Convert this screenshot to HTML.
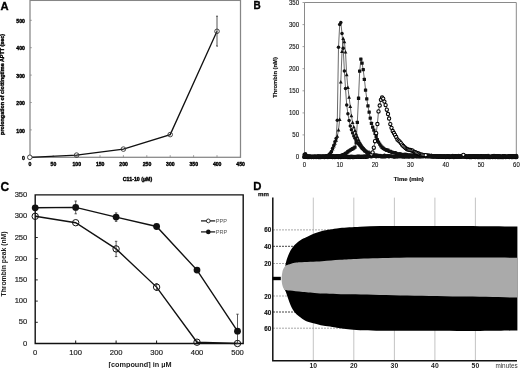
<!DOCTYPE html>
<html><head><meta charset="utf-8"><style>
html,body{margin:0;padding:0;background:#fff;}
body{width:520px;height:368px;overflow:hidden;font-family:"Liberation Sans",sans-serif;}
svg{display:block;filter:grayscale(1);}
</style></head><body>
<svg width="520" height="368" viewBox="0 0 520 368">
<rect width="520" height="368" fill="#fff"/>
<g id="A">
<text x="0.6" y="9.8" font-family="Liberation Sans, sans-serif" font-weight="bold" font-size="11.2" stroke="#000" stroke-width="0.35">A</text>
<rect x="30" y="0.4" width="210.5" height="156.9" fill="none" stroke="#868686" stroke-width="1.25"/>
<line x1="30" y1="157.3" x2="31.8" y2="157.3" stroke="#868686" stroke-width="0.8"/>
<text x="24.9" y="159.9" font-family="Liberation Sans, sans-serif" font-weight="bold" font-size="5.8" text-anchor="end" fill="#000" stroke="#000" stroke-width="0.4" textLength="2.9" lengthAdjust="spacingAndGlyphs">0</text>
<line x1="30" y1="129.9" x2="31.8" y2="129.9" stroke="#868686" stroke-width="0.8"/>
<text x="24.9" y="132.5" font-family="Liberation Sans, sans-serif" font-weight="bold" font-size="5.8" text-anchor="end" fill="#000" stroke="#000" stroke-width="0.4" textLength="8.6" lengthAdjust="spacingAndGlyphs">100</text>
<line x1="30" y1="102.5" x2="31.8" y2="102.5" stroke="#868686" stroke-width="0.8"/>
<text x="24.9" y="105.1" font-family="Liberation Sans, sans-serif" font-weight="bold" font-size="5.8" text-anchor="end" fill="#000" stroke="#000" stroke-width="0.4" textLength="8.6" lengthAdjust="spacingAndGlyphs">200</text>
<line x1="30" y1="75.1" x2="31.8" y2="75.1" stroke="#868686" stroke-width="0.8"/>
<text x="24.9" y="77.7" font-family="Liberation Sans, sans-serif" font-weight="bold" font-size="5.8" text-anchor="end" fill="#000" stroke="#000" stroke-width="0.4" textLength="8.6" lengthAdjust="spacingAndGlyphs">300</text>
<line x1="30" y1="47.7" x2="31.8" y2="47.7" stroke="#868686" stroke-width="0.8"/>
<text x="24.9" y="50.3" font-family="Liberation Sans, sans-serif" font-weight="bold" font-size="5.8" text-anchor="end" fill="#000" stroke="#000" stroke-width="0.4" textLength="8.6" lengthAdjust="spacingAndGlyphs">400</text>
<line x1="30" y1="20.3" x2="31.8" y2="20.3" stroke="#868686" stroke-width="0.8"/>
<text x="24.9" y="22.9" font-family="Liberation Sans, sans-serif" font-weight="bold" font-size="5.8" text-anchor="end" fill="#000" stroke="#000" stroke-width="0.4" textLength="8.6" lengthAdjust="spacingAndGlyphs">500</text>
<line x1="29.8" y1="157.3" x2="29.8" y2="155.2" stroke="#868686" stroke-width="0.8"/>
<text x="30.0" y="165.7" font-family="Liberation Sans, sans-serif" font-weight="bold" font-size="5.8" text-anchor="middle" fill="#000" stroke="#000" stroke-width="0.4" textLength="2.9" lengthAdjust="spacingAndGlyphs">0</text>
<line x1="53.2" y1="157.3" x2="53.2" y2="155.2" stroke="#868686" stroke-width="0.8"/>
<text x="53.4" y="165.7" font-family="Liberation Sans, sans-serif" font-weight="bold" font-size="5.8" text-anchor="middle" fill="#000" stroke="#000" stroke-width="0.4" textLength="5.7" lengthAdjust="spacingAndGlyphs">50</text>
<line x1="76.6" y1="157.3" x2="76.6" y2="155.2" stroke="#868686" stroke-width="0.8"/>
<text x="76.8" y="165.7" font-family="Liberation Sans, sans-serif" font-weight="bold" font-size="5.8" text-anchor="middle" fill="#000" stroke="#000" stroke-width="0.4" textLength="8.6" lengthAdjust="spacingAndGlyphs">100</text>
<line x1="100.0" y1="157.3" x2="100.0" y2="155.2" stroke="#868686" stroke-width="0.8"/>
<text x="100.2" y="165.7" font-family="Liberation Sans, sans-serif" font-weight="bold" font-size="5.8" text-anchor="middle" fill="#000" stroke="#000" stroke-width="0.4" textLength="8.6" lengthAdjust="spacingAndGlyphs">150</text>
<line x1="123.4" y1="157.3" x2="123.4" y2="155.2" stroke="#868686" stroke-width="0.8"/>
<text x="123.6" y="165.7" font-family="Liberation Sans, sans-serif" font-weight="bold" font-size="5.8" text-anchor="middle" fill="#000" stroke="#000" stroke-width="0.4" textLength="8.6" lengthAdjust="spacingAndGlyphs">200</text>
<line x1="146.8" y1="157.3" x2="146.8" y2="155.2" stroke="#868686" stroke-width="0.8"/>
<text x="147.0" y="165.7" font-family="Liberation Sans, sans-serif" font-weight="bold" font-size="5.8" text-anchor="middle" fill="#000" stroke="#000" stroke-width="0.4" textLength="8.6" lengthAdjust="spacingAndGlyphs">250</text>
<line x1="170.2" y1="157.3" x2="170.2" y2="155.2" stroke="#868686" stroke-width="0.8"/>
<text x="170.4" y="165.7" font-family="Liberation Sans, sans-serif" font-weight="bold" font-size="5.8" text-anchor="middle" fill="#000" stroke="#000" stroke-width="0.4" textLength="8.6" lengthAdjust="spacingAndGlyphs">300</text>
<line x1="193.6" y1="157.3" x2="193.6" y2="155.2" stroke="#868686" stroke-width="0.8"/>
<text x="193.8" y="165.7" font-family="Liberation Sans, sans-serif" font-weight="bold" font-size="5.8" text-anchor="middle" fill="#000" stroke="#000" stroke-width="0.4" textLength="8.6" lengthAdjust="spacingAndGlyphs">350</text>
<line x1="217.0" y1="157.3" x2="217.0" y2="155.2" stroke="#868686" stroke-width="0.8"/>
<text x="217.2" y="165.7" font-family="Liberation Sans, sans-serif" font-weight="bold" font-size="5.8" text-anchor="middle" fill="#000" stroke="#000" stroke-width="0.4" textLength="8.6" lengthAdjust="spacingAndGlyphs">400</text>
<line x1="240.4" y1="157.3" x2="240.4" y2="155.2" stroke="#868686" stroke-width="0.8"/>
<text x="240.6" y="165.7" font-family="Liberation Sans, sans-serif" font-weight="bold" font-size="5.8" text-anchor="middle" fill="#000" stroke="#000" stroke-width="0.4" textLength="8.6" lengthAdjust="spacingAndGlyphs">450</text>
<text x="137.5" y="181.2" font-family="Liberation Sans, sans-serif" font-weight="bold" font-size="5.6" text-anchor="middle" fill="#000" stroke="#000" stroke-width="0.4" textLength="29.5" lengthAdjust="spacingAndGlyphs">C11-10 (µM)</text>
<text transform="translate(3.9,84.4) rotate(-90)" font-family="Liberation Sans, sans-serif" font-weight="bold" font-size="5.4" text-anchor="middle" fill="#000" stroke="#000" stroke-width="0.35" textLength="101" lengthAdjust="spacingAndGlyphs">prolongation of clottingtime APTT (sec)</text>
<polyline points="29.8,157.3 76.6,155.1 123.4,149.1 170.2,134.6 217.0,31.3" fill="none" stroke="#111" stroke-width="1.3"/>
<line x1="217.0" y1="16.2" x2="217.0" y2="46.2" stroke="#555" stroke-width="1"/>
<line x1="216.0" y1="16.2" x2="218.0" y2="16.2" stroke="#333" stroke-width="0.8"/>
<line x1="216.0" y1="45.8" x2="218.0" y2="46.2" stroke="#555" stroke-width="1"/>
<circle cx="29.8" cy="157.3" r="2.3" fill="#fff" stroke="#333" stroke-width="0.9"/>
<circle cx="76.6" cy="155.1" r="2.3" fill="none" stroke="#333" stroke-width="0.9"/>
<circle cx="123.4" cy="149.1" r="2.3" fill="none" stroke="#333" stroke-width="0.9"/>
<circle cx="170.2" cy="134.6" r="2.3" fill="none" stroke="#333" stroke-width="0.9"/>
<circle cx="217.0" cy="31.3" r="2.3" fill="none" stroke="#333" stroke-width="0.9"/>
</g>
<g id="B">
<text x="253.6" y="8.9" font-family="Liberation Sans, sans-serif" font-weight="bold" font-size="10.4" stroke="#000" stroke-width="0.35" textLength="7.2" lengthAdjust="spacingAndGlyphs">B</text>
<path d="M304.5,157 V2.5 H516.3 V157" fill="none" stroke="#8a8a8a" stroke-width="1"/>
<line x1="302.5" y1="157.0" x2="304.5" y2="157.0" stroke="#8a8a8a" stroke-width="0.8"/>
<text x="299.1" y="159.4" font-family="Liberation Sans, sans-serif" font-size="6.8" text-anchor="end" fill="#111" stroke="#111" stroke-width="0.12" textLength="3.4" lengthAdjust="spacingAndGlyphs">0</text>
<line x1="302.5" y1="134.9" x2="304.5" y2="134.9" stroke="#8a8a8a" stroke-width="0.8"/>
<text x="299.1" y="137.3" font-family="Liberation Sans, sans-serif" font-size="6.8" text-anchor="end" fill="#111" stroke="#111" stroke-width="0.12" textLength="6.8" lengthAdjust="spacingAndGlyphs">50</text>
<line x1="302.5" y1="112.9" x2="304.5" y2="112.9" stroke="#8a8a8a" stroke-width="0.8"/>
<text x="299.1" y="115.3" font-family="Liberation Sans, sans-serif" font-size="6.8" text-anchor="end" fill="#111" stroke="#111" stroke-width="0.12" textLength="10.2" lengthAdjust="spacingAndGlyphs">100</text>
<line x1="302.5" y1="90.8" x2="304.5" y2="90.8" stroke="#8a8a8a" stroke-width="0.8"/>
<text x="299.1" y="93.2" font-family="Liberation Sans, sans-serif" font-size="6.8" text-anchor="end" fill="#111" stroke="#111" stroke-width="0.12" textLength="10.2" lengthAdjust="spacingAndGlyphs">150</text>
<line x1="302.5" y1="68.7" x2="304.5" y2="68.7" stroke="#8a8a8a" stroke-width="0.8"/>
<text x="299.1" y="71.1" font-family="Liberation Sans, sans-serif" font-size="6.8" text-anchor="end" fill="#111" stroke="#111" stroke-width="0.12" textLength="10.2" lengthAdjust="spacingAndGlyphs">200</text>
<line x1="302.5" y1="46.6" x2="304.5" y2="46.6" stroke="#8a8a8a" stroke-width="0.8"/>
<text x="299.1" y="49.0" font-family="Liberation Sans, sans-serif" font-size="6.8" text-anchor="end" fill="#111" stroke="#111" stroke-width="0.12" textLength="10.2" lengthAdjust="spacingAndGlyphs">250</text>
<line x1="302.5" y1="24.6" x2="304.5" y2="24.6" stroke="#8a8a8a" stroke-width="0.8"/>
<text x="299.1" y="27.0" font-family="Liberation Sans, sans-serif" font-size="6.8" text-anchor="end" fill="#111" stroke="#111" stroke-width="0.12" textLength="10.2" lengthAdjust="spacingAndGlyphs">300</text>
<line x1="302.5" y1="2.5" x2="304.5" y2="2.5" stroke="#8a8a8a" stroke-width="0.8"/>
<text x="299.1" y="4.9" font-family="Liberation Sans, sans-serif" font-size="6.8" text-anchor="end" fill="#111" stroke="#111" stroke-width="0.12" textLength="10.2" lengthAdjust="spacingAndGlyphs">350</text>
<text x="304.3" y="166.7" font-family="Liberation Sans, sans-serif" font-size="6.8" text-anchor="middle" fill="#111" stroke="#111" stroke-width="0.12" textLength="3.3" lengthAdjust="spacingAndGlyphs">0</text>
<text x="339.7" y="166.7" font-family="Liberation Sans, sans-serif" font-size="6.8" text-anchor="middle" fill="#111" stroke="#111" stroke-width="0.12" textLength="6.6" lengthAdjust="spacingAndGlyphs">10</text>
<text x="375.0" y="166.7" font-family="Liberation Sans, sans-serif" font-size="6.8" text-anchor="middle" fill="#111" stroke="#111" stroke-width="0.12" textLength="6.6" lengthAdjust="spacingAndGlyphs">20</text>
<text x="410.4" y="166.7" font-family="Liberation Sans, sans-serif" font-size="6.8" text-anchor="middle" fill="#111" stroke="#111" stroke-width="0.12" textLength="6.6" lengthAdjust="spacingAndGlyphs">30</text>
<text x="445.7" y="166.7" font-family="Liberation Sans, sans-serif" font-size="6.8" text-anchor="middle" fill="#111" stroke="#111" stroke-width="0.12" textLength="6.6" lengthAdjust="spacingAndGlyphs">40</text>
<text x="481.1" y="166.7" font-family="Liberation Sans, sans-serif" font-size="6.8" text-anchor="middle" fill="#111" stroke="#111" stroke-width="0.12" textLength="6.6" lengthAdjust="spacingAndGlyphs">50</text>
<text x="516.4" y="166.7" font-family="Liberation Sans, sans-serif" font-size="6.8" text-anchor="middle" fill="#111" stroke="#111" stroke-width="0.12" textLength="6.6" lengthAdjust="spacingAndGlyphs">60</text>
<text x="408.8" y="181" font-family="Liberation Sans, sans-serif" font-weight="bold" font-size="6.1" text-anchor="middle" fill="#111" stroke="#111" stroke-width="0.2" textLength="30" lengthAdjust="spacingAndGlyphs">Time (min)</text>
<text transform="translate(277.2,77.5) rotate(-90)" font-family="Liberation Sans, sans-serif" font-weight="bold" font-size="6.1" text-anchor="middle" fill="#111" stroke="#111" stroke-width="0.15" textLength="40.7" lengthAdjust="spacingAndGlyphs">Thrombin (nM)</text>
<polyline points="304.3,154.3 305.5,153.7 306.7,155.4 307.8,156.1 309.0,155.9 310.2,155.9 311.4,156.8 312.5,156.7 313.7,156.9 314.9,156.4 316.1,156.9 317.3,156.4 318.4,156.2 319.6,156.6 320.8,156.1 322.0,156.2 323.2,156.9 324.3,156.2 325.5,156.4 326.7,156.1 327.9,155.9 329.0,154.6 330.2,153.3 331.4,151.4 332.6,148.3 333.8,145.2 334.9,141.7 336.1,138.5 337.3,120.2 338.5,47.2 339.7,24.6 340.8,22.5 342.0,33.5 343.2,48.2 344.4,71.0 345.5,88.5 346.7,104.9 347.9,113.7 349.1,120.5 350.3,125.9 351.4,129.8 352.6,133.1 353.8,135.9 355.0,138.2 356.1,140.4 357.3,142.3 358.5,144.0 359.7,145.6 360.9,147.0 362.0,148.4 363.2,149.6 364.4,151.1 365.6,151.6 366.8,153.0 367.9,153.3 369.1,154.1 370.3,154.2 371.5,154.5 372.6,154.7 373.8,154.9 375.0,155.4 376.2,155.1 377.4,155.6 378.5,155.4 379.7,155.7 380.9,155.7 382.1,156.2 383.2,156.0 384.4,155.3 385.6,156.2 386.8,155.7 388.0,155.8 389.1,155.8 390.3,156.1 391.5,156.0 392.7,156.6 393.9,156.6 395.0,156.5 396.2,156.5 397.4,156.6 398.6,156.5 399.7,156.1 400.9,156.5 402.1,155.6 403.3,155.9 404.5,156.1 405.6,155.9 406.8,156.4 408.0,155.6 409.2,155.7 410.4,155.9 411.5,156.1 412.7,155.7 413.9,155.8 415.1,155.9 416.2,155.6 417.4,156.0 418.6,156.3 419.8,156.1 421.0,156.5 422.1,156.5 423.3,155.9 424.5,155.8 425.7,155.6 426.8,155.7 428.0,156.1 429.2,156.6 430.4,156.1 431.6,155.6 432.7,155.8 433.9,156.1 435.1,156.2 436.3,156.4 437.5,156.5 438.6,156.6 439.8,155.7 441.0,156.0 442.2,156.5 443.3,156.2 444.5,156.6 445.7,156.5 446.9,155.9 448.1,155.9 449.2,156.1 450.4,156.4 451.6,155.9 452.8,155.6 453.9,156.2 455.1,156.6 456.3,156.6 457.5,156.6 458.7,155.6 459.8,156.1 461.0,155.7 462.2,156.5 463.4,156.4 464.6,155.9 465.7,155.7 466.9,156.3 468.1,156.6 469.3,155.7 470.4,156.4 471.6,155.8 472.8,156.5 474.0,155.9 475.2,155.7 476.3,155.9 477.5,156.3 478.7,155.9 479.9,156.5 481.1,156.3 482.2,156.2 483.4,155.7 484.6,156.5 485.8,155.7 486.9,155.8 488.1,155.6 489.3,156.3 490.5,156.5 491.7,156.4 492.8,155.7 494.0,155.6 495.2,155.9 496.4,156.1 497.5,156.4 498.7,155.7 499.9,155.7 501.1,156.6 502.3,156.4 503.4,155.7 504.6,155.7 505.8,156.3 507.0,156.4 508.2,156.2 509.3,156.1 510.5,156.6 511.7,155.7 512.9,156.1 514.0,155.8 515.2,156.4 516.4,155.6" fill="none" stroke="#444" stroke-width="0.8"/>
<polyline points="304.3,156.6 305.5,156.9 306.7,156.5 307.8,156.7 309.0,156.6 310.2,157.0 311.4,157.0 312.5,156.6 313.7,156.9 314.9,156.7 316.1,157.0 317.3,156.4 318.4,156.7 319.6,156.5 320.8,157.0 322.0,156.7 323.2,156.9 324.3,156.4 325.5,156.7 326.7,156.9 327.9,156.8 329.0,156.1 330.2,154.3 331.4,151.9 332.6,149.0 333.8,146.1 334.9,143.4 336.1,140.4 337.3,136.3 338.5,130.0 339.7,119.5 340.8,82.1 342.0,51.7 343.2,38.7 344.4,41.8 345.5,52.0 346.7,74.9 347.9,87.5 349.1,97.3 350.3,106.6 351.4,115.8 352.6,122.7 353.8,127.0 355.0,130.6 356.1,133.9 357.3,136.9 358.5,139.5 359.7,142.0 360.9,144.2 362.0,146.1 363.2,147.5 364.4,148.8 365.6,150.0 366.8,151.1 367.9,151.8 369.1,152.1 370.3,153.2 371.5,153.8 372.6,154.0 373.8,154.5 375.0,154.7 376.2,155.3 377.4,155.3 378.5,155.7 379.7,155.7 380.9,155.6 382.1,156.1 383.2,156.0 384.4,155.7 385.6,155.8 386.8,156.2 388.0,156.2 389.1,156.3 390.3,156.5 391.5,156.4 392.7,156.9 393.9,156.5 395.0,157.0 396.2,156.6 397.4,156.7 398.6,156.8 399.7,156.7 400.9,156.8 402.1,156.6 403.3,157.0 404.5,156.8 405.6,156.5 406.8,156.5 408.0,157.0 409.2,156.9 410.4,156.5 411.5,156.9 412.7,157.0 413.9,156.6 415.1,156.8 416.2,156.6 417.4,156.8 418.6,156.8 419.8,156.8 421.0,156.9 422.1,156.5 423.3,156.7 424.5,156.6 425.7,156.5 426.8,156.9 428.0,156.5 429.2,156.6 430.4,156.8 431.6,156.7 432.7,157.0 433.9,156.6 435.1,157.0 436.3,156.8 437.5,157.0 438.6,157.0 439.8,156.7 441.0,156.8 442.2,156.7 443.3,156.6 444.5,156.5 445.7,157.0 446.9,156.7 448.1,156.7 449.2,156.7 450.4,156.8 451.6,156.7 452.8,156.6 453.9,156.8 455.1,156.8 456.3,156.7 457.5,157.0 458.7,156.8 459.8,157.0 461.0,157.0 462.2,157.0 463.4,157.0 464.6,157.0 465.7,156.8 466.9,156.7 468.1,156.6 469.3,156.8 470.4,156.5 471.6,156.8 472.8,156.6 474.0,156.7 475.2,156.7 476.3,156.9 477.5,156.5 478.7,156.6 479.9,157.0 481.1,156.8 482.2,156.5 483.4,157.0 484.6,156.9 485.8,156.6 486.9,157.0 488.1,156.6 489.3,156.7 490.5,156.6 491.7,156.7 492.8,156.5 494.0,156.9 495.2,156.7 496.4,157.0 497.5,156.7 498.7,156.8 499.9,156.5 501.1,156.5 502.3,157.0 503.4,157.0 504.6,157.0 505.8,157.0 507.0,156.6 508.2,156.8 509.3,156.8 510.5,156.8 511.7,157.0 512.9,156.8 514.0,156.5 515.2,156.6 516.4,156.7" fill="none" stroke="#444" stroke-width="0.8"/>
<polyline points="304.3,156.7 305.5,155.9 306.7,156.4 307.8,156.2 309.0,156.7 310.2,156.5 311.4,156.5 312.5,156.4 313.7,156.9 314.9,156.1 316.1,156.7 317.3,156.2 318.4,156.2 319.6,156.1 320.8,156.5 322.0,156.5 323.2,156.0 324.3,156.4 325.5,156.7 326.7,155.8 327.9,156.8 329.0,155.8 330.2,156.4 331.4,156.3 332.6,155.6 333.8,156.2 334.9,155.9 336.1,156.2 337.3,155.6 338.5,155.6 339.7,155.7 340.8,155.8 342.0,155.2 343.2,154.7 344.4,154.3 345.5,153.3 346.7,152.9 347.9,151.8 349.1,150.9 350.3,150.2 351.4,149.4 352.6,148.7 353.8,148.1 355.0,147.1 356.1,142.8 357.3,122.4 358.5,98.2 359.7,71.2 360.9,59.0 362.0,63.0 363.2,69.7 364.4,79.3 365.6,90.0 366.8,99.0 367.9,105.9 369.1,112.1 370.3,118.2 371.5,123.5 372.6,127.1 373.8,130.2 375.0,133.3 376.2,136.6 377.4,139.7 378.5,142.1 379.7,144.1 380.9,145.8 382.1,147.2 383.2,148.3 384.4,149.0 385.6,149.7 386.8,150.3 388.0,150.2 389.1,151.4 390.3,151.5 391.5,152.1 392.7,152.5 393.9,153.0 395.0,152.7 396.2,153.5 397.4,154.3 398.6,153.9 399.7,153.8 400.9,154.0 402.1,154.6 403.3,155.3 404.5,154.5 405.6,154.4 406.8,154.8 408.0,155.2 409.2,155.3 410.4,155.0 411.5,155.7 412.7,155.0 413.9,155.4 415.1,156.0 416.2,155.2 417.4,155.7 418.6,156.1 419.8,156.1 421.0,155.3 422.1,156.2 423.3,155.5 424.5,155.5 425.7,156.3 426.8,156.0 428.0,155.6 429.2,155.9 430.4,155.5 431.6,156.1 432.7,155.8 433.9,156.3 435.1,155.5 436.3,155.6 437.5,155.9 438.6,156.2 439.8,156.1 441.0,155.9 442.2,156.4 443.3,156.0 444.5,156.2 445.7,156.2 446.9,156.2 448.1,155.6 449.2,156.4 450.4,156.3 451.6,156.4 452.8,156.6 453.9,156.1 455.1,155.6 456.3,155.6 457.5,156.0 458.7,156.1 459.8,155.6 461.0,156.0 462.2,156.0 463.4,155.9 464.6,156.5 465.7,155.7 466.9,156.5 468.1,156.0 469.3,155.6 470.4,156.0 471.6,156.3 472.8,155.8 474.0,155.6 475.2,155.9 476.3,156.6 477.5,155.6 478.7,156.6 479.9,155.9 481.1,155.6 482.2,156.5 483.4,156.1 484.6,155.9 485.8,156.5 486.9,156.4 488.1,156.6 489.3,156.5 490.5,156.5 491.7,156.3 492.8,155.8 494.0,155.9 495.2,155.8 496.4,155.9 497.5,155.8 498.7,156.5 499.9,156.0 501.1,156.7 502.3,156.1 503.4,155.7 504.6,156.1 505.8,156.3 507.0,156.4 508.2,156.2 509.3,155.6 510.5,155.6 511.7,155.8 512.9,155.6 514.0,155.8 515.2,156.4 516.4,156.2" fill="none" stroke="#444" stroke-width="0.8"/>
<polyline points="304.3,156.9 305.5,156.9 306.7,156.9 307.8,157.0 309.0,157.0 310.2,156.7 311.4,157.0 312.5,156.7 313.7,157.0 314.9,156.7 316.1,157.0 317.3,156.8 318.4,157.0 319.6,157.0 320.8,157.0 322.0,156.9 323.2,156.9 324.3,157.0 325.5,156.8 326.7,156.7 327.9,157.0 329.0,156.9 330.2,156.8 331.4,156.9 332.6,157.0 333.8,156.7 334.9,157.0 336.1,156.7 337.3,156.9 338.5,157.0 339.7,156.7 340.8,157.0 342.0,156.7 343.2,156.8 344.4,156.6 345.5,156.7 346.7,156.9 347.9,157.0 349.1,157.0 350.3,157.0 351.4,156.7 352.6,157.0 353.8,157.0 355.0,156.9 356.1,156.8 357.3,156.6 358.5,156.7 359.7,156.7 360.9,156.9 362.0,156.7 363.2,156.8 364.4,156.4 365.6,156.9 366.8,156.4 367.9,156.2 369.1,155.9 370.3,155.6 371.5,154.4 372.6,152.4 373.8,147.7 375.0,141.2 376.2,133.2 377.4,124.0 378.5,111.4 379.7,105.5 380.9,99.8 382.1,97.5 383.2,98.6 384.4,101.6 385.6,105.1 386.8,109.7 388.0,114.0 389.1,118.5 390.3,124.1 391.5,127.8 392.7,131.0 393.9,133.0 395.0,134.9 396.2,137.0 397.4,139.5 398.6,140.6 399.7,141.6 400.9,143.1 402.1,144.7 403.3,146.0 404.5,147.1 405.6,148.1 406.8,149.0 408.0,149.5 409.2,149.8 410.4,150.0 411.5,150.3 412.7,150.7 413.9,151.8 415.1,152.1 416.2,152.6 417.4,153.2 418.6,153.5 419.8,154.2 421.0,154.6 422.1,154.7 423.3,155.1 424.5,155.2 425.7,155.2 426.8,155.7 428.0,155.5 429.2,155.8 430.4,156.2 431.6,156.0 432.7,156.2 433.9,156.4 435.1,156.4 436.3,156.2 437.5,156.4 438.6,156.7 439.8,156.3 441.0,156.8 442.2,156.7 443.3,156.8 444.5,156.4 445.7,157.0 446.9,156.6 448.1,156.7 449.2,157.0 450.4,156.7 451.6,156.6 452.8,156.6 453.9,157.0 455.1,156.6 456.3,156.8 457.5,156.5 458.7,156.7 459.8,156.9 461.0,156.4 462.2,156.0 463.4,154.8 464.6,156.0 465.7,156.7 466.9,157.0 468.1,156.7 469.3,157.0 470.4,157.0 471.6,157.0 472.8,156.9 474.0,156.7 475.2,157.0 476.3,156.8 477.5,157.0 478.7,157.0 479.9,157.0 481.1,157.0 482.2,157.0 483.4,157.0 484.6,157.0 485.8,156.9 486.9,157.0 488.1,157.0 489.3,157.0 490.5,157.0 491.7,156.9 492.8,157.0 494.0,156.7 495.2,157.0 496.4,156.8 497.5,157.0 498.7,157.0 499.9,157.0 501.1,157.0 502.3,157.0 503.4,157.0 504.6,156.7 505.8,157.0 507.0,156.7 508.2,156.8 509.3,157.0 510.5,156.9 511.7,157.0 512.9,157.0 514.0,156.9 515.2,157.0 516.4,157.0" fill="none" stroke="#444" stroke-width="0.8"/>
<circle cx="304.3" cy="156.9" r="1.65" fill="#fff" stroke="#000" stroke-width="1.05"/>
<circle cx="305.5" cy="156.9" r="1.65" fill="#fff" stroke="#000" stroke-width="1.05"/>
<circle cx="306.7" cy="156.9" r="1.65" fill="#fff" stroke="#000" stroke-width="1.05"/>
<circle cx="307.8" cy="157.0" r="1.65" fill="#fff" stroke="#000" stroke-width="1.05"/>
<circle cx="309.0" cy="157.0" r="1.65" fill="#fff" stroke="#000" stroke-width="1.05"/>
<circle cx="310.2" cy="156.7" r="1.65" fill="#fff" stroke="#000" stroke-width="1.05"/>
<circle cx="311.4" cy="157.0" r="1.65" fill="#fff" stroke="#000" stroke-width="1.05"/>
<circle cx="312.5" cy="156.7" r="1.65" fill="#fff" stroke="#000" stroke-width="1.05"/>
<circle cx="313.7" cy="157.0" r="1.65" fill="#fff" stroke="#000" stroke-width="1.05"/>
<circle cx="314.9" cy="156.7" r="1.65" fill="#fff" stroke="#000" stroke-width="1.05"/>
<circle cx="316.1" cy="157.0" r="1.65" fill="#fff" stroke="#000" stroke-width="1.05"/>
<circle cx="317.3" cy="156.8" r="1.65" fill="#fff" stroke="#000" stroke-width="1.05"/>
<circle cx="318.4" cy="157.0" r="1.65" fill="#fff" stroke="#000" stroke-width="1.05"/>
<circle cx="319.6" cy="157.0" r="1.65" fill="#fff" stroke="#000" stroke-width="1.05"/>
<circle cx="320.8" cy="157.0" r="1.65" fill="#fff" stroke="#000" stroke-width="1.05"/>
<circle cx="322.0" cy="156.9" r="1.65" fill="#fff" stroke="#000" stroke-width="1.05"/>
<circle cx="323.2" cy="156.9" r="1.65" fill="#fff" stroke="#000" stroke-width="1.05"/>
<circle cx="324.3" cy="157.0" r="1.65" fill="#fff" stroke="#000" stroke-width="1.05"/>
<circle cx="325.5" cy="156.8" r="1.65" fill="#fff" stroke="#000" stroke-width="1.05"/>
<circle cx="326.7" cy="156.7" r="1.65" fill="#fff" stroke="#000" stroke-width="1.05"/>
<circle cx="327.9" cy="157.0" r="1.65" fill="#fff" stroke="#000" stroke-width="1.05"/>
<circle cx="329.0" cy="156.9" r="1.65" fill="#fff" stroke="#000" stroke-width="1.05"/>
<circle cx="330.2" cy="156.8" r="1.65" fill="#fff" stroke="#000" stroke-width="1.05"/>
<circle cx="331.4" cy="156.9" r="1.65" fill="#fff" stroke="#000" stroke-width="1.05"/>
<circle cx="332.6" cy="157.0" r="1.65" fill="#fff" stroke="#000" stroke-width="1.05"/>
<circle cx="333.8" cy="156.7" r="1.65" fill="#fff" stroke="#000" stroke-width="1.05"/>
<circle cx="334.9" cy="157.0" r="1.65" fill="#fff" stroke="#000" stroke-width="1.05"/>
<circle cx="336.1" cy="156.7" r="1.65" fill="#fff" stroke="#000" stroke-width="1.05"/>
<circle cx="337.3" cy="156.9" r="1.65" fill="#fff" stroke="#000" stroke-width="1.05"/>
<circle cx="338.5" cy="157.0" r="1.65" fill="#fff" stroke="#000" stroke-width="1.05"/>
<circle cx="339.7" cy="156.7" r="1.65" fill="#fff" stroke="#000" stroke-width="1.05"/>
<circle cx="340.8" cy="157.0" r="1.65" fill="#fff" stroke="#000" stroke-width="1.05"/>
<circle cx="342.0" cy="156.7" r="1.65" fill="#fff" stroke="#000" stroke-width="1.05"/>
<circle cx="343.2" cy="156.8" r="1.65" fill="#fff" stroke="#000" stroke-width="1.05"/>
<circle cx="344.4" cy="156.6" r="1.65" fill="#fff" stroke="#000" stroke-width="1.05"/>
<circle cx="345.5" cy="156.7" r="1.65" fill="#fff" stroke="#000" stroke-width="1.05"/>
<circle cx="346.7" cy="156.9" r="1.65" fill="#fff" stroke="#000" stroke-width="1.05"/>
<circle cx="347.9" cy="157.0" r="1.65" fill="#fff" stroke="#000" stroke-width="1.05"/>
<circle cx="349.1" cy="157.0" r="1.65" fill="#fff" stroke="#000" stroke-width="1.05"/>
<circle cx="350.3" cy="157.0" r="1.65" fill="#fff" stroke="#000" stroke-width="1.05"/>
<circle cx="351.4" cy="156.7" r="1.65" fill="#fff" stroke="#000" stroke-width="1.05"/>
<circle cx="352.6" cy="157.0" r="1.65" fill="#fff" stroke="#000" stroke-width="1.05"/>
<circle cx="353.8" cy="157.0" r="1.65" fill="#fff" stroke="#000" stroke-width="1.05"/>
<circle cx="355.0" cy="156.9" r="1.65" fill="#fff" stroke="#000" stroke-width="1.05"/>
<circle cx="356.1" cy="156.8" r="1.65" fill="#fff" stroke="#000" stroke-width="1.05"/>
<circle cx="357.3" cy="156.6" r="1.65" fill="#fff" stroke="#000" stroke-width="1.05"/>
<circle cx="358.5" cy="156.7" r="1.65" fill="#fff" stroke="#000" stroke-width="1.05"/>
<circle cx="359.7" cy="156.7" r="1.65" fill="#fff" stroke="#000" stroke-width="1.05"/>
<circle cx="360.9" cy="156.9" r="1.65" fill="#fff" stroke="#000" stroke-width="1.05"/>
<circle cx="362.0" cy="156.7" r="1.65" fill="#fff" stroke="#000" stroke-width="1.05"/>
<circle cx="363.2" cy="156.8" r="1.65" fill="#fff" stroke="#000" stroke-width="1.05"/>
<circle cx="364.4" cy="156.4" r="1.65" fill="#fff" stroke="#000" stroke-width="1.05"/>
<circle cx="365.6" cy="156.9" r="1.65" fill="#fff" stroke="#000" stroke-width="1.05"/>
<circle cx="366.8" cy="156.4" r="1.65" fill="#fff" stroke="#000" stroke-width="1.05"/>
<circle cx="367.9" cy="156.2" r="1.65" fill="#fff" stroke="#000" stroke-width="1.05"/>
<circle cx="369.1" cy="155.9" r="1.65" fill="#fff" stroke="#000" stroke-width="1.05"/>
<circle cx="370.3" cy="155.6" r="1.65" fill="#fff" stroke="#000" stroke-width="1.05"/>
<circle cx="426.8" cy="155.7" r="1.65" fill="#fff" stroke="#000" stroke-width="1.05"/>
<circle cx="428.0" cy="155.5" r="1.65" fill="#fff" stroke="#000" stroke-width="1.05"/>
<circle cx="429.2" cy="155.8" r="1.65" fill="#fff" stroke="#000" stroke-width="1.05"/>
<circle cx="430.4" cy="156.2" r="1.65" fill="#fff" stroke="#000" stroke-width="1.05"/>
<circle cx="431.6" cy="156.0" r="1.65" fill="#fff" stroke="#000" stroke-width="1.05"/>
<circle cx="432.7" cy="156.2" r="1.65" fill="#fff" stroke="#000" stroke-width="1.05"/>
<circle cx="433.9" cy="156.4" r="1.65" fill="#fff" stroke="#000" stroke-width="1.05"/>
<circle cx="435.1" cy="156.4" r="1.65" fill="#fff" stroke="#000" stroke-width="1.05"/>
<circle cx="436.3" cy="156.2" r="1.65" fill="#fff" stroke="#000" stroke-width="1.05"/>
<circle cx="437.5" cy="156.4" r="1.65" fill="#fff" stroke="#000" stroke-width="1.05"/>
<circle cx="438.6" cy="156.7" r="1.65" fill="#fff" stroke="#000" stroke-width="1.05"/>
<circle cx="439.8" cy="156.3" r="1.65" fill="#fff" stroke="#000" stroke-width="1.05"/>
<circle cx="441.0" cy="156.8" r="1.65" fill="#fff" stroke="#000" stroke-width="1.05"/>
<circle cx="442.2" cy="156.7" r="1.65" fill="#fff" stroke="#000" stroke-width="1.05"/>
<circle cx="443.3" cy="156.8" r="1.65" fill="#fff" stroke="#000" stroke-width="1.05"/>
<circle cx="444.5" cy="156.4" r="1.65" fill="#fff" stroke="#000" stroke-width="1.05"/>
<circle cx="445.7" cy="157.0" r="1.65" fill="#fff" stroke="#000" stroke-width="1.05"/>
<circle cx="446.9" cy="156.6" r="1.65" fill="#fff" stroke="#000" stroke-width="1.05"/>
<circle cx="448.1" cy="156.7" r="1.65" fill="#fff" stroke="#000" stroke-width="1.05"/>
<circle cx="449.2" cy="157.0" r="1.65" fill="#fff" stroke="#000" stroke-width="1.05"/>
<circle cx="450.4" cy="156.7" r="1.65" fill="#fff" stroke="#000" stroke-width="1.05"/>
<circle cx="451.6" cy="156.6" r="1.65" fill="#fff" stroke="#000" stroke-width="1.05"/>
<circle cx="452.8" cy="156.6" r="1.65" fill="#fff" stroke="#000" stroke-width="1.05"/>
<circle cx="453.9" cy="157.0" r="1.65" fill="#fff" stroke="#000" stroke-width="1.05"/>
<circle cx="455.1" cy="156.6" r="1.65" fill="#fff" stroke="#000" stroke-width="1.05"/>
<circle cx="456.3" cy="156.8" r="1.65" fill="#fff" stroke="#000" stroke-width="1.05"/>
<circle cx="457.5" cy="156.5" r="1.65" fill="#fff" stroke="#000" stroke-width="1.05"/>
<circle cx="458.7" cy="156.7" r="1.65" fill="#fff" stroke="#000" stroke-width="1.05"/>
<circle cx="459.8" cy="156.9" r="1.65" fill="#fff" stroke="#000" stroke-width="1.05"/>
<circle cx="461.0" cy="156.4" r="1.65" fill="#fff" stroke="#000" stroke-width="1.05"/>
<circle cx="462.2" cy="156.0" r="1.65" fill="#fff" stroke="#000" stroke-width="1.05"/>
<circle cx="464.6" cy="156.0" r="1.65" fill="#fff" stroke="#000" stroke-width="1.05"/>
<circle cx="465.7" cy="156.7" r="1.65" fill="#fff" stroke="#000" stroke-width="1.05"/>
<circle cx="466.9" cy="157.0" r="1.65" fill="#fff" stroke="#000" stroke-width="1.05"/>
<circle cx="468.1" cy="156.7" r="1.65" fill="#fff" stroke="#000" stroke-width="1.05"/>
<circle cx="469.3" cy="157.0" r="1.65" fill="#fff" stroke="#000" stroke-width="1.05"/>
<circle cx="470.4" cy="157.0" r="1.65" fill="#fff" stroke="#000" stroke-width="1.05"/>
<circle cx="471.6" cy="157.0" r="1.65" fill="#fff" stroke="#000" stroke-width="1.05"/>
<circle cx="472.8" cy="156.9" r="1.65" fill="#fff" stroke="#000" stroke-width="1.05"/>
<circle cx="474.0" cy="156.7" r="1.65" fill="#fff" stroke="#000" stroke-width="1.05"/>
<circle cx="475.2" cy="157.0" r="1.65" fill="#fff" stroke="#000" stroke-width="1.05"/>
<circle cx="476.3" cy="156.8" r="1.65" fill="#fff" stroke="#000" stroke-width="1.05"/>
<circle cx="477.5" cy="157.0" r="1.65" fill="#fff" stroke="#000" stroke-width="1.05"/>
<circle cx="478.7" cy="157.0" r="1.65" fill="#fff" stroke="#000" stroke-width="1.05"/>
<circle cx="479.9" cy="157.0" r="1.65" fill="#fff" stroke="#000" stroke-width="1.05"/>
<circle cx="481.1" cy="157.0" r="1.65" fill="#fff" stroke="#000" stroke-width="1.05"/>
<circle cx="482.2" cy="157.0" r="1.65" fill="#fff" stroke="#000" stroke-width="1.05"/>
<circle cx="483.4" cy="157.0" r="1.65" fill="#fff" stroke="#000" stroke-width="1.05"/>
<circle cx="484.6" cy="157.0" r="1.65" fill="#fff" stroke="#000" stroke-width="1.05"/>
<circle cx="485.8" cy="156.9" r="1.65" fill="#fff" stroke="#000" stroke-width="1.05"/>
<circle cx="486.9" cy="157.0" r="1.65" fill="#fff" stroke="#000" stroke-width="1.05"/>
<circle cx="488.1" cy="157.0" r="1.65" fill="#fff" stroke="#000" stroke-width="1.05"/>
<circle cx="489.3" cy="157.0" r="1.65" fill="#fff" stroke="#000" stroke-width="1.05"/>
<circle cx="490.5" cy="157.0" r="1.65" fill="#fff" stroke="#000" stroke-width="1.05"/>
<circle cx="491.7" cy="156.9" r="1.65" fill="#fff" stroke="#000" stroke-width="1.05"/>
<circle cx="492.8" cy="157.0" r="1.65" fill="#fff" stroke="#000" stroke-width="1.05"/>
<circle cx="494.0" cy="156.7" r="1.65" fill="#fff" stroke="#000" stroke-width="1.05"/>
<circle cx="495.2" cy="157.0" r="1.65" fill="#fff" stroke="#000" stroke-width="1.05"/>
<circle cx="496.4" cy="156.8" r="1.65" fill="#fff" stroke="#000" stroke-width="1.05"/>
<circle cx="497.5" cy="157.0" r="1.65" fill="#fff" stroke="#000" stroke-width="1.05"/>
<circle cx="498.7" cy="157.0" r="1.65" fill="#fff" stroke="#000" stroke-width="1.05"/>
<circle cx="499.9" cy="157.0" r="1.65" fill="#fff" stroke="#000" stroke-width="1.05"/>
<circle cx="501.1" cy="157.0" r="1.65" fill="#fff" stroke="#000" stroke-width="1.05"/>
<circle cx="502.3" cy="157.0" r="1.65" fill="#fff" stroke="#000" stroke-width="1.05"/>
<circle cx="503.4" cy="157.0" r="1.65" fill="#fff" stroke="#000" stroke-width="1.05"/>
<circle cx="504.6" cy="156.7" r="1.65" fill="#fff" stroke="#000" stroke-width="1.05"/>
<circle cx="505.8" cy="157.0" r="1.65" fill="#fff" stroke="#000" stroke-width="1.05"/>
<circle cx="507.0" cy="156.7" r="1.65" fill="#fff" stroke="#000" stroke-width="1.05"/>
<circle cx="508.2" cy="156.8" r="1.65" fill="#fff" stroke="#000" stroke-width="1.05"/>
<circle cx="509.3" cy="157.0" r="1.65" fill="#fff" stroke="#000" stroke-width="1.05"/>
<circle cx="510.5" cy="156.9" r="1.65" fill="#fff" stroke="#000" stroke-width="1.05"/>
<circle cx="511.7" cy="157.0" r="1.65" fill="#fff" stroke="#000" stroke-width="1.05"/>
<circle cx="512.9" cy="157.0" r="1.65" fill="#fff" stroke="#000" stroke-width="1.05"/>
<circle cx="514.0" cy="156.9" r="1.65" fill="#fff" stroke="#000" stroke-width="1.05"/>
<circle cx="515.2" cy="157.0" r="1.65" fill="#fff" stroke="#000" stroke-width="1.05"/>
<circle cx="516.4" cy="157.0" r="1.65" fill="#fff" stroke="#000" stroke-width="1.05"/>
<polyline points="304.3,157.0 305.5,156.5 306.7,156.6 307.8,156.6 309.0,156.9 310.2,156.5 311.4,156.7 312.5,157.0 313.7,157.0 314.9,156.6 316.1,156.4 317.3,156.7 318.4,156.9 319.6,156.6 320.8,156.9 322.0,156.6 323.2,156.8 324.3,157.0 325.5,156.7 326.7,156.7 327.9,156.4 329.0,156.6 330.2,156.9 331.4,156.6 332.6,156.9 333.8,156.6 334.9,156.7 336.1,156.7 337.3,157.0 338.5,156.6 339.7,156.7 340.8,156.6 342.0,157.0 343.2,156.6 344.4,156.4 345.5,156.7 346.7,157.0 347.9,156.4 349.1,156.7 350.3,156.9 351.4,156.6 352.6,156.5 353.8,157.0 355.0,156.7 356.1,156.6 357.3,156.4 358.5,157.0 359.7,156.7 360.9,156.6 362.0,156.6 363.2,156.5 364.4,156.6 365.6,156.6 366.8,156.7 367.9,157.0 369.1,156.5 370.3,156.7 371.5,157.0 372.6,156.5 373.8,156.6 375.0,156.6 376.2,157.0 377.4,156.6 378.5,156.8 379.7,156.5 380.9,157.0 382.1,156.9 383.2,157.0 384.4,157.0 385.6,156.9 386.8,156.6 388.0,156.8 389.1,156.9 390.3,156.4 391.5,156.6 392.7,156.4 393.9,156.9 395.0,157.0 396.2,156.4 397.4,157.0 398.6,156.5 399.7,156.4 400.9,156.6 402.1,156.7 403.3,156.8 404.5,156.9 405.6,157.0 406.8,156.8 408.0,156.7 409.2,156.9 410.4,156.4 411.5,156.4 412.7,156.9 413.9,156.7 415.1,156.5 416.2,156.7 417.4,156.8 418.6,156.5 419.8,156.7 421.0,156.7 422.1,156.6 423.3,156.9 424.5,156.6 425.7,156.9 426.8,156.6 428.0,156.9 429.2,156.5 430.4,156.8 431.6,156.4 432.7,157.0 433.9,156.6 435.1,156.5 436.3,156.5 437.5,156.7 438.6,156.7 439.8,156.9 441.0,156.5 442.2,156.5 443.3,156.7 444.5,156.7 445.7,156.4 446.9,156.7 448.1,157.0 449.2,157.0 450.4,156.5 451.6,156.7 452.8,156.7 453.9,156.8 455.1,157.0 456.3,156.5 457.5,156.8 458.7,156.8 459.8,156.8 461.0,157.0 462.2,156.4 463.4,156.4 464.6,157.0 465.7,157.0 466.9,156.8 468.1,156.4 469.3,156.7 470.4,156.4 471.6,156.8 472.8,156.7 474.0,156.5 475.2,156.6 476.3,156.9 477.5,156.8 478.7,156.6 479.9,156.8 481.1,156.9 482.2,156.9 483.4,156.6 484.6,156.9 485.8,157.0 486.9,156.9 488.1,156.4 489.3,156.4 490.5,156.7 491.7,156.9 492.8,156.8 494.0,156.5 495.2,156.7 496.4,156.5 497.5,156.5 498.7,156.5 499.9,156.5 501.1,156.7 502.3,157.0 503.4,156.5 504.6,156.4 505.8,156.6 507.0,156.9 508.2,156.4 509.3,156.4 510.5,156.4 511.7,156.6 512.9,156.4 514.0,156.9 515.2,156.7 516.4,156.4" fill="none" stroke="#444" stroke-width="0.8"/>
<circle cx="304.3" cy="157.0" r="1.5" fill="#111"/>
<circle cx="305.5" cy="156.5" r="1.5" fill="#111"/>
<circle cx="306.7" cy="156.6" r="1.5" fill="#111"/>
<circle cx="307.8" cy="156.6" r="1.5" fill="#111"/>
<circle cx="309.0" cy="156.9" r="1.5" fill="#111"/>
<circle cx="310.2" cy="156.5" r="1.5" fill="#111"/>
<circle cx="311.4" cy="156.7" r="1.5" fill="#111"/>
<circle cx="312.5" cy="157.0" r="1.5" fill="#111"/>
<circle cx="313.7" cy="157.0" r="1.5" fill="#111"/>
<circle cx="314.9" cy="156.6" r="1.5" fill="#111"/>
<circle cx="316.1" cy="156.4" r="1.5" fill="#111"/>
<circle cx="317.3" cy="156.7" r="1.5" fill="#111"/>
<circle cx="318.4" cy="156.9" r="1.5" fill="#111"/>
<circle cx="319.6" cy="156.6" r="1.5" fill="#111"/>
<circle cx="320.8" cy="156.9" r="1.5" fill="#111"/>
<circle cx="322.0" cy="156.6" r="1.5" fill="#111"/>
<circle cx="323.2" cy="156.8" r="1.5" fill="#111"/>
<circle cx="324.3" cy="157.0" r="1.5" fill="#111"/>
<circle cx="325.5" cy="156.7" r="1.5" fill="#111"/>
<circle cx="326.7" cy="156.7" r="1.5" fill="#111"/>
<circle cx="327.9" cy="156.4" r="1.5" fill="#111"/>
<circle cx="329.0" cy="156.6" r="1.5" fill="#111"/>
<circle cx="330.2" cy="156.9" r="1.5" fill="#111"/>
<circle cx="331.4" cy="156.6" r="1.5" fill="#111"/>
<circle cx="332.6" cy="156.9" r="1.5" fill="#111"/>
<circle cx="333.8" cy="156.6" r="1.5" fill="#111"/>
<circle cx="334.9" cy="156.7" r="1.5" fill="#111"/>
<circle cx="336.1" cy="156.7" r="1.5" fill="#111"/>
<circle cx="337.3" cy="157.0" r="1.5" fill="#111"/>
<circle cx="338.5" cy="156.6" r="1.5" fill="#111"/>
<circle cx="339.7" cy="156.7" r="1.5" fill="#111"/>
<circle cx="340.8" cy="156.6" r="1.5" fill="#111"/>
<circle cx="342.0" cy="157.0" r="1.5" fill="#111"/>
<circle cx="343.2" cy="156.6" r="1.5" fill="#111"/>
<circle cx="344.4" cy="156.4" r="1.5" fill="#111"/>
<circle cx="345.5" cy="156.7" r="1.5" fill="#111"/>
<circle cx="346.7" cy="157.0" r="1.5" fill="#111"/>
<circle cx="347.9" cy="156.4" r="1.5" fill="#111"/>
<circle cx="349.1" cy="156.7" r="1.5" fill="#111"/>
<circle cx="350.3" cy="156.9" r="1.5" fill="#111"/>
<circle cx="351.4" cy="156.6" r="1.5" fill="#111"/>
<circle cx="352.6" cy="156.5" r="1.5" fill="#111"/>
<circle cx="353.8" cy="157.0" r="1.5" fill="#111"/>
<circle cx="355.0" cy="156.7" r="1.5" fill="#111"/>
<circle cx="356.1" cy="156.6" r="1.5" fill="#111"/>
<circle cx="357.3" cy="156.4" r="1.5" fill="#111"/>
<circle cx="358.5" cy="157.0" r="1.5" fill="#111"/>
<circle cx="359.7" cy="156.7" r="1.5" fill="#111"/>
<circle cx="360.9" cy="156.6" r="1.5" fill="#111"/>
<circle cx="362.0" cy="156.6" r="1.5" fill="#111"/>
<circle cx="363.2" cy="156.5" r="1.5" fill="#111"/>
<circle cx="364.4" cy="156.6" r="1.5" fill="#111"/>
<circle cx="365.6" cy="156.6" r="1.5" fill="#111"/>
<circle cx="366.8" cy="156.7" r="1.5" fill="#111"/>
<circle cx="367.9" cy="157.0" r="1.5" fill="#111"/>
<circle cx="369.1" cy="156.5" r="1.5" fill="#111"/>
<circle cx="370.3" cy="156.7" r="1.5" fill="#111"/>
<circle cx="371.5" cy="157.0" r="1.5" fill="#111"/>
<circle cx="372.6" cy="156.5" r="1.5" fill="#111"/>
<circle cx="373.8" cy="156.6" r="1.5" fill="#111"/>
<circle cx="375.0" cy="156.6" r="1.5" fill="#111"/>
<circle cx="376.2" cy="157.0" r="1.5" fill="#111"/>
<circle cx="377.4" cy="156.6" r="1.5" fill="#111"/>
<circle cx="378.5" cy="156.8" r="1.5" fill="#111"/>
<circle cx="379.7" cy="156.5" r="1.5" fill="#111"/>
<circle cx="380.9" cy="157.0" r="1.5" fill="#111"/>
<circle cx="382.1" cy="156.9" r="1.5" fill="#111"/>
<circle cx="383.2" cy="157.0" r="1.5" fill="#111"/>
<circle cx="384.4" cy="157.0" r="1.5" fill="#111"/>
<circle cx="385.6" cy="156.9" r="1.5" fill="#111"/>
<circle cx="386.8" cy="156.6" r="1.5" fill="#111"/>
<circle cx="388.0" cy="156.8" r="1.5" fill="#111"/>
<circle cx="389.1" cy="156.9" r="1.5" fill="#111"/>
<circle cx="390.3" cy="156.4" r="1.5" fill="#111"/>
<circle cx="391.5" cy="156.6" r="1.5" fill="#111"/>
<circle cx="392.7" cy="156.4" r="1.5" fill="#111"/>
<circle cx="393.9" cy="156.9" r="1.5" fill="#111"/>
<circle cx="395.0" cy="157.0" r="1.5" fill="#111"/>
<circle cx="396.2" cy="156.4" r="1.5" fill="#111"/>
<circle cx="397.4" cy="157.0" r="1.5" fill="#111"/>
<circle cx="398.6" cy="156.5" r="1.5" fill="#111"/>
<circle cx="399.7" cy="156.4" r="1.5" fill="#111"/>
<circle cx="400.9" cy="156.6" r="1.5" fill="#111"/>
<circle cx="402.1" cy="156.7" r="1.5" fill="#111"/>
<circle cx="403.3" cy="156.8" r="1.5" fill="#111"/>
<circle cx="404.5" cy="156.9" r="1.5" fill="#111"/>
<circle cx="405.6" cy="157.0" r="1.5" fill="#111"/>
<circle cx="406.8" cy="156.8" r="1.5" fill="#111"/>
<circle cx="408.0" cy="156.7" r="1.5" fill="#111"/>
<circle cx="409.2" cy="156.9" r="1.5" fill="#111"/>
<circle cx="410.4" cy="156.4" r="1.5" fill="#111"/>
<circle cx="411.5" cy="156.4" r="1.5" fill="#111"/>
<circle cx="412.7" cy="156.9" r="1.5" fill="#111"/>
<circle cx="413.9" cy="156.7" r="1.5" fill="#111"/>
<circle cx="415.1" cy="156.5" r="1.5" fill="#111"/>
<circle cx="416.2" cy="156.7" r="1.5" fill="#111"/>
<circle cx="417.4" cy="156.8" r="1.5" fill="#111"/>
<circle cx="418.6" cy="156.5" r="1.5" fill="#111"/>
<circle cx="419.8" cy="156.7" r="1.5" fill="#111"/>
<circle cx="421.0" cy="156.7" r="1.5" fill="#111"/>
<circle cx="422.1" cy="156.6" r="1.5" fill="#111"/>
<circle cx="423.3" cy="156.9" r="1.5" fill="#111"/>
<circle cx="424.5" cy="156.6" r="1.5" fill="#111"/>
<circle cx="425.7" cy="156.9" r="1.5" fill="#111"/>
<circle cx="426.8" cy="156.6" r="1.5" fill="#111"/>
<circle cx="428.0" cy="156.9" r="1.5" fill="#111"/>
<circle cx="429.2" cy="156.5" r="1.5" fill="#111"/>
<circle cx="430.4" cy="156.8" r="1.5" fill="#111"/>
<circle cx="431.6" cy="156.4" r="1.5" fill="#111"/>
<circle cx="432.7" cy="157.0" r="1.5" fill="#111"/>
<circle cx="433.9" cy="156.6" r="1.5" fill="#111"/>
<circle cx="435.1" cy="156.5" r="1.5" fill="#111"/>
<circle cx="436.3" cy="156.5" r="1.5" fill="#111"/>
<circle cx="437.5" cy="156.7" r="1.5" fill="#111"/>
<circle cx="438.6" cy="156.7" r="1.5" fill="#111"/>
<circle cx="439.8" cy="156.9" r="1.5" fill="#111"/>
<circle cx="441.0" cy="156.5" r="1.5" fill="#111"/>
<circle cx="442.2" cy="156.5" r="1.5" fill="#111"/>
<circle cx="443.3" cy="156.7" r="1.5" fill="#111"/>
<circle cx="444.5" cy="156.7" r="1.5" fill="#111"/>
<circle cx="445.7" cy="156.4" r="1.5" fill="#111"/>
<circle cx="446.9" cy="156.7" r="1.5" fill="#111"/>
<circle cx="448.1" cy="157.0" r="1.5" fill="#111"/>
<circle cx="449.2" cy="157.0" r="1.5" fill="#111"/>
<circle cx="450.4" cy="156.5" r="1.5" fill="#111"/>
<circle cx="451.6" cy="156.7" r="1.5" fill="#111"/>
<circle cx="452.8" cy="156.7" r="1.5" fill="#111"/>
<circle cx="453.9" cy="156.8" r="1.5" fill="#111"/>
<circle cx="455.1" cy="157.0" r="1.5" fill="#111"/>
<circle cx="456.3" cy="156.5" r="1.5" fill="#111"/>
<circle cx="457.5" cy="156.8" r="1.5" fill="#111"/>
<circle cx="458.7" cy="156.8" r="1.5" fill="#111"/>
<circle cx="459.8" cy="156.8" r="1.5" fill="#111"/>
<circle cx="461.0" cy="157.0" r="1.5" fill="#111"/>
<circle cx="462.2" cy="156.4" r="1.5" fill="#111"/>
<circle cx="463.4" cy="156.4" r="1.5" fill="#111"/>
<circle cx="464.6" cy="157.0" r="1.5" fill="#111"/>
<circle cx="465.7" cy="157.0" r="1.5" fill="#111"/>
<circle cx="466.9" cy="156.8" r="1.5" fill="#111"/>
<circle cx="468.1" cy="156.4" r="1.5" fill="#111"/>
<circle cx="469.3" cy="156.7" r="1.5" fill="#111"/>
<circle cx="470.4" cy="156.4" r="1.5" fill="#111"/>
<circle cx="471.6" cy="156.8" r="1.5" fill="#111"/>
<circle cx="472.8" cy="156.7" r="1.5" fill="#111"/>
<circle cx="474.0" cy="156.5" r="1.5" fill="#111"/>
<circle cx="475.2" cy="156.6" r="1.5" fill="#111"/>
<circle cx="476.3" cy="156.9" r="1.5" fill="#111"/>
<circle cx="477.5" cy="156.8" r="1.5" fill="#111"/>
<circle cx="478.7" cy="156.6" r="1.5" fill="#111"/>
<circle cx="479.9" cy="156.8" r="1.5" fill="#111"/>
<circle cx="481.1" cy="156.9" r="1.5" fill="#111"/>
<circle cx="482.2" cy="156.9" r="1.5" fill="#111"/>
<circle cx="483.4" cy="156.6" r="1.5" fill="#111"/>
<circle cx="484.6" cy="156.9" r="1.5" fill="#111"/>
<circle cx="485.8" cy="157.0" r="1.5" fill="#111"/>
<circle cx="486.9" cy="156.9" r="1.5" fill="#111"/>
<circle cx="488.1" cy="156.4" r="1.5" fill="#111"/>
<circle cx="489.3" cy="156.4" r="1.5" fill="#111"/>
<circle cx="490.5" cy="156.7" r="1.5" fill="#111"/>
<circle cx="491.7" cy="156.9" r="1.5" fill="#111"/>
<circle cx="492.8" cy="156.8" r="1.5" fill="#111"/>
<circle cx="494.0" cy="156.5" r="1.5" fill="#111"/>
<circle cx="495.2" cy="156.7" r="1.5" fill="#111"/>
<circle cx="496.4" cy="156.5" r="1.5" fill="#111"/>
<circle cx="497.5" cy="156.5" r="1.5" fill="#111"/>
<circle cx="498.7" cy="156.5" r="1.5" fill="#111"/>
<circle cx="499.9" cy="156.5" r="1.5" fill="#111"/>
<circle cx="501.1" cy="156.7" r="1.5" fill="#111"/>
<circle cx="502.3" cy="157.0" r="1.5" fill="#111"/>
<circle cx="503.4" cy="156.5" r="1.5" fill="#111"/>
<circle cx="504.6" cy="156.4" r="1.5" fill="#111"/>
<circle cx="505.8" cy="156.6" r="1.5" fill="#111"/>
<circle cx="507.0" cy="156.9" r="1.5" fill="#111"/>
<circle cx="508.2" cy="156.4" r="1.5" fill="#111"/>
<circle cx="509.3" cy="156.4" r="1.5" fill="#111"/>
<circle cx="510.5" cy="156.4" r="1.5" fill="#111"/>
<circle cx="511.7" cy="156.6" r="1.5" fill="#111"/>
<circle cx="512.9" cy="156.4" r="1.5" fill="#111"/>
<circle cx="514.0" cy="156.9" r="1.5" fill="#111"/>
<circle cx="515.2" cy="156.7" r="1.5" fill="#111"/>
<circle cx="516.4" cy="156.4" r="1.5" fill="#111"/>
<rect x="302.7" y="155.0" width="3.3" height="3.3" rx="0.5" fill="#111"/>
<rect x="303.8" y="154.2" width="3.3" height="3.3" rx="0.5" fill="#111"/>
<rect x="305.0" y="154.8" width="3.3" height="3.3" rx="0.5" fill="#111"/>
<rect x="306.2" y="154.5" width="3.3" height="3.3" rx="0.5" fill="#111"/>
<rect x="307.4" y="155.0" width="3.3" height="3.3" rx="0.5" fill="#111"/>
<rect x="308.5" y="154.9" width="3.3" height="3.3" rx="0.5" fill="#111"/>
<rect x="309.7" y="154.9" width="3.3" height="3.3" rx="0.5" fill="#111"/>
<rect x="310.9" y="154.8" width="3.3" height="3.3" rx="0.5" fill="#111"/>
<rect x="312.1" y="155.2" width="3.3" height="3.3" rx="0.5" fill="#111"/>
<rect x="313.3" y="154.5" width="3.3" height="3.3" rx="0.5" fill="#111"/>
<rect x="314.4" y="155.0" width="3.3" height="3.3" rx="0.5" fill="#111"/>
<rect x="315.6" y="154.5" width="3.3" height="3.3" rx="0.5" fill="#111"/>
<rect x="316.8" y="154.5" width="3.3" height="3.3" rx="0.5" fill="#111"/>
<rect x="318.0" y="154.4" width="3.3" height="3.3" rx="0.5" fill="#111"/>
<rect x="319.1" y="154.9" width="3.3" height="3.3" rx="0.5" fill="#111"/>
<rect x="320.3" y="154.9" width="3.3" height="3.3" rx="0.5" fill="#111"/>
<rect x="321.5" y="154.3" width="3.3" height="3.3" rx="0.5" fill="#111"/>
<rect x="322.7" y="154.7" width="3.3" height="3.3" rx="0.5" fill="#111"/>
<rect x="323.9" y="155.0" width="3.3" height="3.3" rx="0.5" fill="#111"/>
<rect x="325.0" y="154.1" width="3.3" height="3.3" rx="0.5" fill="#111"/>
<rect x="326.2" y="155.1" width="3.3" height="3.3" rx="0.5" fill="#111"/>
<rect x="327.4" y="154.1" width="3.3" height="3.3" rx="0.5" fill="#111"/>
<rect x="328.6" y="154.8" width="3.3" height="3.3" rx="0.5" fill="#111"/>
<rect x="329.8" y="154.7" width="3.3" height="3.3" rx="0.5" fill="#111"/>
<rect x="330.9" y="154.0" width="3.3" height="3.3" rx="0.5" fill="#111"/>
<rect x="332.1" y="154.6" width="3.3" height="3.3" rx="0.5" fill="#111"/>
<rect x="333.3" y="154.2" width="3.3" height="3.3" rx="0.5" fill="#111"/>
<rect x="334.5" y="154.6" width="3.3" height="3.3" rx="0.5" fill="#111"/>
<rect x="335.6" y="153.9" width="3.3" height="3.3" rx="0.5" fill="#111"/>
<rect x="336.8" y="154.0" width="3.3" height="3.3" rx="0.5" fill="#111"/>
<rect x="338.0" y="154.0" width="3.3" height="3.3" rx="0.5" fill="#111"/>
<rect x="339.2" y="154.2" width="3.3" height="3.3" rx="0.5" fill="#111"/>
<rect x="340.4" y="153.5" width="3.3" height="3.3" rx="0.5" fill="#111"/>
<rect x="341.5" y="153.0" width="3.3" height="3.3" rx="0.5" fill="#111"/>
<rect x="342.7" y="152.7" width="3.3" height="3.3" rx="0.5" fill="#111"/>
<rect x="343.9" y="151.7" width="3.3" height="3.3" rx="0.5" fill="#111"/>
<rect x="345.1" y="151.3" width="3.3" height="3.3" rx="0.5" fill="#111"/>
<rect x="346.2" y="150.1" width="3.3" height="3.3" rx="0.5" fill="#111"/>
<rect x="347.4" y="149.3" width="3.3" height="3.3" rx="0.5" fill="#111"/>
<rect x="348.6" y="148.5" width="3.3" height="3.3" rx="0.5" fill="#111"/>
<rect x="349.8" y="147.8" width="3.3" height="3.3" rx="0.5" fill="#111"/>
<rect x="351.0" y="147.1" width="3.3" height="3.3" rx="0.5" fill="#111"/>
<rect x="352.1" y="146.5" width="3.3" height="3.3" rx="0.5" fill="#111"/>
<rect x="353.3" y="145.5" width="3.3" height="3.3" rx="0.5" fill="#111"/>
<rect x="354.5" y="141.2" width="3.3" height="3.3" rx="0.5" fill="#111"/>
<rect x="355.7" y="120.8" width="3.3" height="3.3" rx="0.5" fill="#111"/>
<rect x="356.9" y="96.6" width="3.3" height="3.3" rx="0.5" fill="#111"/>
<rect x="358.0" y="69.5" width="3.3" height="3.3" rx="0.5" fill="#111"/>
<rect x="359.2" y="57.4" width="3.3" height="3.3" rx="0.5" fill="#111"/>
<rect x="360.4" y="61.4" width="3.3" height="3.3" rx="0.5" fill="#111"/>
<rect x="361.6" y="68.0" width="3.3" height="3.3" rx="0.5" fill="#111"/>
<rect x="362.7" y="77.7" width="3.3" height="3.3" rx="0.5" fill="#111"/>
<rect x="363.9" y="88.4" width="3.3" height="3.3" rx="0.5" fill="#111"/>
<rect x="365.1" y="97.3" width="3.3" height="3.3" rx="0.5" fill="#111"/>
<rect x="366.3" y="104.3" width="3.3" height="3.3" rx="0.5" fill="#111"/>
<rect x="367.5" y="110.4" width="3.3" height="3.3" rx="0.5" fill="#111"/>
<rect x="368.6" y="116.5" width="3.3" height="3.3" rx="0.5" fill="#111"/>
<rect x="369.8" y="121.8" width="3.3" height="3.3" rx="0.5" fill="#111"/>
<rect x="371.0" y="125.5" width="3.3" height="3.3" rx="0.5" fill="#111"/>
<rect x="372.2" y="128.5" width="3.3" height="3.3" rx="0.5" fill="#111"/>
<rect x="373.4" y="131.6" width="3.3" height="3.3" rx="0.5" fill="#111"/>
<rect x="374.5" y="135.0" width="3.3" height="3.3" rx="0.5" fill="#111"/>
<rect x="375.7" y="138.1" width="3.3" height="3.3" rx="0.5" fill="#111"/>
<rect x="376.9" y="140.4" width="3.3" height="3.3" rx="0.5" fill="#111"/>
<rect x="378.1" y="142.4" width="3.3" height="3.3" rx="0.5" fill="#111"/>
<rect x="379.2" y="144.2" width="3.3" height="3.3" rx="0.5" fill="#111"/>
<rect x="380.4" y="145.6" width="3.3" height="3.3" rx="0.5" fill="#111"/>
<rect x="381.6" y="146.6" width="3.3" height="3.3" rx="0.5" fill="#111"/>
<rect x="382.8" y="147.4" width="3.3" height="3.3" rx="0.5" fill="#111"/>
<rect x="384.0" y="148.0" width="3.3" height="3.3" rx="0.5" fill="#111"/>
<rect x="385.1" y="148.6" width="3.3" height="3.3" rx="0.5" fill="#111"/>
<rect x="386.3" y="148.6" width="3.3" height="3.3" rx="0.5" fill="#111"/>
<rect x="387.5" y="149.7" width="3.3" height="3.3" rx="0.5" fill="#111"/>
<rect x="388.7" y="149.8" width="3.3" height="3.3" rx="0.5" fill="#111"/>
<rect x="389.8" y="150.5" width="3.3" height="3.3" rx="0.5" fill="#111"/>
<rect x="391.0" y="150.8" width="3.3" height="3.3" rx="0.5" fill="#111"/>
<rect x="392.2" y="151.3" width="3.3" height="3.3" rx="0.5" fill="#111"/>
<rect x="393.4" y="151.1" width="3.3" height="3.3" rx="0.5" fill="#111"/>
<rect x="394.6" y="151.8" width="3.3" height="3.3" rx="0.5" fill="#111"/>
<rect x="395.7" y="152.7" width="3.3" height="3.3" rx="0.5" fill="#111"/>
<rect x="396.9" y="152.3" width="3.3" height="3.3" rx="0.5" fill="#111"/>
<rect x="398.1" y="152.2" width="3.3" height="3.3" rx="0.5" fill="#111"/>
<rect x="399.3" y="152.4" width="3.3" height="3.3" rx="0.5" fill="#111"/>
<rect x="400.5" y="152.9" width="3.3" height="3.3" rx="0.5" fill="#111"/>
<rect x="401.6" y="153.7" width="3.3" height="3.3" rx="0.5" fill="#111"/>
<rect x="402.8" y="152.8" width="3.3" height="3.3" rx="0.5" fill="#111"/>
<rect x="404.0" y="152.8" width="3.3" height="3.3" rx="0.5" fill="#111"/>
<rect x="405.2" y="153.1" width="3.3" height="3.3" rx="0.5" fill="#111"/>
<rect x="406.3" y="153.5" width="3.3" height="3.3" rx="0.5" fill="#111"/>
<rect x="407.5" y="153.7" width="3.3" height="3.3" rx="0.5" fill="#111"/>
<rect x="408.7" y="153.3" width="3.3" height="3.3" rx="0.5" fill="#111"/>
<rect x="409.9" y="154.1" width="3.3" height="3.3" rx="0.5" fill="#111"/>
<rect x="411.1" y="153.4" width="3.3" height="3.3" rx="0.5" fill="#111"/>
<rect x="412.2" y="153.8" width="3.3" height="3.3" rx="0.5" fill="#111"/>
<rect x="413.4" y="154.3" width="3.3" height="3.3" rx="0.5" fill="#111"/>
<rect x="414.6" y="153.5" width="3.3" height="3.3" rx="0.5" fill="#111"/>
<rect x="415.8" y="154.1" width="3.3" height="3.3" rx="0.5" fill="#111"/>
<rect x="416.9" y="154.4" width="3.3" height="3.3" rx="0.5" fill="#111"/>
<rect x="418.1" y="154.4" width="3.3" height="3.3" rx="0.5" fill="#111"/>
<rect x="419.3" y="153.7" width="3.3" height="3.3" rx="0.5" fill="#111"/>
<rect x="420.5" y="154.5" width="3.3" height="3.3" rx="0.5" fill="#111"/>
<rect x="421.7" y="153.8" width="3.3" height="3.3" rx="0.5" fill="#111"/>
<rect x="422.8" y="153.8" width="3.3" height="3.3" rx="0.5" fill="#111"/>
<rect x="424.0" y="154.7" width="3.3" height="3.3" rx="0.5" fill="#111"/>
<rect x="425.2" y="154.3" width="3.3" height="3.3" rx="0.5" fill="#111"/>
<rect x="426.4" y="153.9" width="3.3" height="3.3" rx="0.5" fill="#111"/>
<rect x="427.6" y="154.3" width="3.3" height="3.3" rx="0.5" fill="#111"/>
<rect x="428.7" y="153.8" width="3.3" height="3.3" rx="0.5" fill="#111"/>
<rect x="429.9" y="154.4" width="3.3" height="3.3" rx="0.5" fill="#111"/>
<rect x="431.1" y="154.1" width="3.3" height="3.3" rx="0.5" fill="#111"/>
<rect x="432.3" y="154.6" width="3.3" height="3.3" rx="0.5" fill="#111"/>
<rect x="433.4" y="153.9" width="3.3" height="3.3" rx="0.5" fill="#111"/>
<rect x="434.6" y="153.9" width="3.3" height="3.3" rx="0.5" fill="#111"/>
<rect x="435.8" y="154.2" width="3.3" height="3.3" rx="0.5" fill="#111"/>
<rect x="437.0" y="154.5" width="3.3" height="3.3" rx="0.5" fill="#111"/>
<rect x="438.2" y="154.5" width="3.3" height="3.3" rx="0.5" fill="#111"/>
<rect x="439.3" y="154.2" width="3.3" height="3.3" rx="0.5" fill="#111"/>
<rect x="440.5" y="154.7" width="3.3" height="3.3" rx="0.5" fill="#111"/>
<rect x="441.7" y="154.3" width="3.3" height="3.3" rx="0.5" fill="#111"/>
<rect x="442.9" y="154.6" width="3.3" height="3.3" rx="0.5" fill="#111"/>
<rect x="444.1" y="154.5" width="3.3" height="3.3" rx="0.5" fill="#111"/>
<rect x="445.2" y="154.5" width="3.3" height="3.3" rx="0.5" fill="#111"/>
<rect x="446.4" y="154.0" width="3.3" height="3.3" rx="0.5" fill="#111"/>
<rect x="447.6" y="154.7" width="3.3" height="3.3" rx="0.5" fill="#111"/>
<rect x="448.8" y="154.7" width="3.3" height="3.3" rx="0.5" fill="#111"/>
<rect x="449.9" y="154.7" width="3.3" height="3.3" rx="0.5" fill="#111"/>
<rect x="451.1" y="154.9" width="3.3" height="3.3" rx="0.5" fill="#111"/>
<rect x="452.3" y="154.5" width="3.3" height="3.3" rx="0.5" fill="#111"/>
<rect x="453.5" y="154.0" width="3.3" height="3.3" rx="0.5" fill="#111"/>
<rect x="454.7" y="153.9" width="3.3" height="3.3" rx="0.5" fill="#111"/>
<rect x="455.8" y="154.4" width="3.3" height="3.3" rx="0.5" fill="#111"/>
<rect x="457.0" y="154.5" width="3.3" height="3.3" rx="0.5" fill="#111"/>
<rect x="458.2" y="154.0" width="3.3" height="3.3" rx="0.5" fill="#111"/>
<rect x="459.4" y="154.4" width="3.3" height="3.3" rx="0.5" fill="#111"/>
<rect x="460.5" y="154.3" width="3.3" height="3.3" rx="0.5" fill="#111"/>
<rect x="461.7" y="154.2" width="3.3" height="3.3" rx="0.5" fill="#111"/>
<rect x="462.9" y="154.9" width="3.3" height="3.3" rx="0.5" fill="#111"/>
<rect x="464.1" y="154.0" width="3.3" height="3.3" rx="0.5" fill="#111"/>
<rect x="465.3" y="154.9" width="3.3" height="3.3" rx="0.5" fill="#111"/>
<rect x="466.4" y="154.4" width="3.3" height="3.3" rx="0.5" fill="#111"/>
<rect x="467.6" y="153.9" width="3.3" height="3.3" rx="0.5" fill="#111"/>
<rect x="468.8" y="154.4" width="3.3" height="3.3" rx="0.5" fill="#111"/>
<rect x="470.0" y="154.6" width="3.3" height="3.3" rx="0.5" fill="#111"/>
<rect x="471.2" y="154.2" width="3.3" height="3.3" rx="0.5" fill="#111"/>
<rect x="472.3" y="154.0" width="3.3" height="3.3" rx="0.5" fill="#111"/>
<rect x="473.5" y="154.3" width="3.3" height="3.3" rx="0.5" fill="#111"/>
<rect x="474.7" y="154.9" width="3.3" height="3.3" rx="0.5" fill="#111"/>
<rect x="475.9" y="154.0" width="3.3" height="3.3" rx="0.5" fill="#111"/>
<rect x="477.0" y="155.0" width="3.3" height="3.3" rx="0.5" fill="#111"/>
<rect x="478.2" y="154.2" width="3.3" height="3.3" rx="0.5" fill="#111"/>
<rect x="479.4" y="154.0" width="3.3" height="3.3" rx="0.5" fill="#111"/>
<rect x="480.6" y="154.8" width="3.3" height="3.3" rx="0.5" fill="#111"/>
<rect x="481.8" y="154.4" width="3.3" height="3.3" rx="0.5" fill="#111"/>
<rect x="482.9" y="154.2" width="3.3" height="3.3" rx="0.5" fill="#111"/>
<rect x="484.1" y="154.8" width="3.3" height="3.3" rx="0.5" fill="#111"/>
<rect x="485.3" y="154.7" width="3.3" height="3.3" rx="0.5" fill="#111"/>
<rect x="486.5" y="154.9" width="3.3" height="3.3" rx="0.5" fill="#111"/>
<rect x="487.6" y="154.8" width="3.3" height="3.3" rx="0.5" fill="#111"/>
<rect x="488.8" y="154.9" width="3.3" height="3.3" rx="0.5" fill="#111"/>
<rect x="490.0" y="154.7" width="3.3" height="3.3" rx="0.5" fill="#111"/>
<rect x="491.2" y="154.2" width="3.3" height="3.3" rx="0.5" fill="#111"/>
<rect x="492.4" y="154.2" width="3.3" height="3.3" rx="0.5" fill="#111"/>
<rect x="493.5" y="154.2" width="3.3" height="3.3" rx="0.5" fill="#111"/>
<rect x="494.7" y="154.3" width="3.3" height="3.3" rx="0.5" fill="#111"/>
<rect x="495.9" y="154.1" width="3.3" height="3.3" rx="0.5" fill="#111"/>
<rect x="497.1" y="154.9" width="3.3" height="3.3" rx="0.5" fill="#111"/>
<rect x="498.3" y="154.4" width="3.3" height="3.3" rx="0.5" fill="#111"/>
<rect x="499.4" y="155.0" width="3.3" height="3.3" rx="0.5" fill="#111"/>
<rect x="500.6" y="154.5" width="3.3" height="3.3" rx="0.5" fill="#111"/>
<rect x="501.8" y="154.1" width="3.3" height="3.3" rx="0.5" fill="#111"/>
<rect x="503.0" y="154.5" width="3.3" height="3.3" rx="0.5" fill="#111"/>
<rect x="504.1" y="154.7" width="3.3" height="3.3" rx="0.5" fill="#111"/>
<rect x="505.3" y="154.7" width="3.3" height="3.3" rx="0.5" fill="#111"/>
<rect x="506.5" y="154.6" width="3.3" height="3.3" rx="0.5" fill="#111"/>
<rect x="507.7" y="154.0" width="3.3" height="3.3" rx="0.5" fill="#111"/>
<rect x="508.9" y="153.9" width="3.3" height="3.3" rx="0.5" fill="#111"/>
<rect x="510.0" y="154.2" width="3.3" height="3.3" rx="0.5" fill="#111"/>
<rect x="511.2" y="153.9" width="3.3" height="3.3" rx="0.5" fill="#111"/>
<rect x="512.4" y="154.2" width="3.3" height="3.3" rx="0.5" fill="#111"/>
<rect x="513.6" y="154.7" width="3.3" height="3.3" rx="0.5" fill="#111"/>
<rect x="514.8" y="154.5" width="3.3" height="3.3" rx="0.5" fill="#111"/>
<path d="M304.3,154.5 L306.2,158.0 L302.4,158.0Z" fill="#111"/>
<path d="M305.5,154.8 L307.4,158.3 L303.6,158.3Z" fill="#111"/>
<path d="M306.7,154.4 L308.6,157.9 L304.8,157.9Z" fill="#111"/>
<path d="M307.8,154.6 L309.7,158.1 L305.9,158.1Z" fill="#111"/>
<path d="M309.0,154.5 L310.9,158.0 L307.1,158.0Z" fill="#111"/>
<path d="M310.2,154.9 L312.1,158.4 L308.3,158.4Z" fill="#111"/>
<path d="M311.4,154.9 L313.3,158.4 L309.5,158.4Z" fill="#111"/>
<path d="M312.5,154.5 L314.4,158.0 L310.6,158.0Z" fill="#111"/>
<path d="M313.7,154.8 L315.6,158.3 L311.8,158.3Z" fill="#111"/>
<path d="M314.9,154.6 L316.8,158.1 L313.0,158.1Z" fill="#111"/>
<path d="M316.1,154.9 L318.0,158.4 L314.2,158.4Z" fill="#111"/>
<path d="M317.3,154.3 L319.2,157.8 L315.4,157.8Z" fill="#111"/>
<path d="M318.4,154.6 L320.3,158.1 L316.5,158.1Z" fill="#111"/>
<path d="M319.6,154.4 L321.5,157.9 L317.7,157.9Z" fill="#111"/>
<path d="M320.8,154.9 L322.7,158.4 L318.9,158.4Z" fill="#111"/>
<path d="M322.0,154.6 L323.9,158.1 L320.1,158.1Z" fill="#111"/>
<path d="M323.2,154.8 L325.1,158.3 L321.3,158.3Z" fill="#111"/>
<path d="M324.3,154.3 L326.2,157.8 L322.4,157.8Z" fill="#111"/>
<path d="M325.5,154.6 L327.4,158.1 L323.6,158.1Z" fill="#111"/>
<path d="M326.7,154.8 L328.6,158.3 L324.8,158.3Z" fill="#111"/>
<path d="M327.9,154.7 L329.8,158.2 L326.0,158.2Z" fill="#111"/>
<path d="M329.0,154.0 L330.9,157.5 L327.1,157.5Z" fill="#111"/>
<path d="M330.2,152.2 L332.1,155.7 L328.3,155.7Z" fill="#111"/>
<path d="M331.4,149.8 L333.3,153.3 L329.5,153.3Z" fill="#111"/>
<path d="M332.6,146.9 L334.5,150.4 L330.7,150.4Z" fill="#111"/>
<path d="M333.8,144.0 L335.7,147.5 L331.9,147.5Z" fill="#111"/>
<path d="M334.9,141.3 L336.8,144.8 L333.0,144.8Z" fill="#111"/>
<path d="M336.1,138.3 L338.0,141.8 L334.2,141.8Z" fill="#111"/>
<path d="M337.3,134.2 L339.2,137.7 L335.4,137.7Z" fill="#111"/>
<path d="M338.5,127.9 L340.4,131.4 L336.6,131.4Z" fill="#111"/>
<path d="M339.7,117.4 L341.6,120.9 L337.8,120.9Z" fill="#111"/>
<path d="M340.8,80.0 L342.7,83.5 L338.9,83.5Z" fill="#111"/>
<path d="M342.0,49.6 L343.9,53.1 L340.1,53.1Z" fill="#111"/>
<path d="M343.2,36.6 L345.1,40.1 L341.3,40.1Z" fill="#111"/>
<path d="M344.4,39.7 L346.3,43.2 L342.5,43.2Z" fill="#111"/>
<path d="M345.5,49.9 L347.4,53.4 L343.6,53.4Z" fill="#111"/>
<path d="M346.7,72.8 L348.6,76.3 L344.8,76.3Z" fill="#111"/>
<path d="M347.9,85.4 L349.8,88.9 L346.0,88.9Z" fill="#111"/>
<path d="M349.1,95.2 L351.0,98.7 L347.2,98.7Z" fill="#111"/>
<path d="M350.3,104.5 L352.2,108.0 L348.4,108.0Z" fill="#111"/>
<path d="M351.4,113.7 L353.3,117.2 L349.5,117.2Z" fill="#111"/>
<path d="M352.6,120.6 L354.5,124.1 L350.7,124.1Z" fill="#111"/>
<path d="M353.8,124.9 L355.7,128.4 L351.9,128.4Z" fill="#111"/>
<path d="M355.0,128.5 L356.9,132.0 L353.1,132.0Z" fill="#111"/>
<path d="M356.1,131.8 L358.0,135.3 L354.2,135.3Z" fill="#111"/>
<path d="M357.3,134.8 L359.2,138.3 L355.4,138.3Z" fill="#111"/>
<path d="M358.5,137.4 L360.4,140.9 L356.6,140.9Z" fill="#111"/>
<path d="M359.7,139.9 L361.6,143.4 L357.8,143.4Z" fill="#111"/>
<path d="M360.9,142.1 L362.8,145.6 L359.0,145.6Z" fill="#111"/>
<path d="M362.0,144.0 L363.9,147.5 L360.1,147.5Z" fill="#111"/>
<path d="M363.2,145.4 L365.1,148.9 L361.3,148.9Z" fill="#111"/>
<path d="M364.4,146.7 L366.3,150.2 L362.5,150.2Z" fill="#111"/>
<path d="M365.6,147.9 L367.5,151.4 L363.7,151.4Z" fill="#111"/>
<path d="M366.8,149.0 L368.7,152.5 L364.9,152.5Z" fill="#111"/>
<path d="M367.9,149.7 L369.8,153.2 L366.0,153.2Z" fill="#111"/>
<path d="M369.1,150.0 L371.0,153.5 L367.2,153.5Z" fill="#111"/>
<path d="M370.3,151.1 L372.2,154.6 L368.4,154.6Z" fill="#111"/>
<path d="M371.5,151.7 L373.4,155.2 L369.6,155.2Z" fill="#111"/>
<path d="M372.6,151.9 L374.5,155.4 L370.7,155.4Z" fill="#111"/>
<path d="M373.8,152.4 L375.7,155.9 L371.9,155.9Z" fill="#111"/>
<path d="M375.0,152.6 L376.9,156.1 L373.1,156.1Z" fill="#111"/>
<path d="M376.2,153.2 L378.1,156.7 L374.3,156.7Z" fill="#111"/>
<path d="M377.4,153.2 L379.3,156.7 L375.5,156.7Z" fill="#111"/>
<path d="M378.5,153.6 L380.4,157.1 L376.6,157.1Z" fill="#111"/>
<path d="M379.7,153.6 L381.6,157.1 L377.8,157.1Z" fill="#111"/>
<path d="M380.9,153.5 L382.8,157.0 L379.0,157.0Z" fill="#111"/>
<path d="M382.1,154.0 L384.0,157.5 L380.2,157.5Z" fill="#111"/>
<path d="M383.2,153.9 L385.1,157.4 L381.3,157.4Z" fill="#111"/>
<path d="M384.4,153.6 L386.3,157.1 L382.5,157.1Z" fill="#111"/>
<path d="M385.6,153.7 L387.5,157.2 L383.7,157.2Z" fill="#111"/>
<path d="M386.8,154.1 L388.7,157.6 L384.9,157.6Z" fill="#111"/>
<path d="M388.0,154.1 L389.9,157.6 L386.1,157.6Z" fill="#111"/>
<path d="M389.1,154.2 L391.0,157.7 L387.2,157.7Z" fill="#111"/>
<path d="M390.3,154.4 L392.2,157.9 L388.4,157.9Z" fill="#111"/>
<path d="M391.5,154.3 L393.4,157.8 L389.6,157.8Z" fill="#111"/>
<path d="M392.7,154.8 L394.6,158.3 L390.8,158.3Z" fill="#111"/>
<path d="M393.9,154.4 L395.8,157.9 L392.0,157.9Z" fill="#111"/>
<path d="M395.0,154.9 L396.9,158.4 L393.1,158.4Z" fill="#111"/>
<path d="M396.2,154.5 L398.1,158.0 L394.3,158.0Z" fill="#111"/>
<path d="M397.4,154.6 L399.3,158.1 L395.5,158.1Z" fill="#111"/>
<path d="M398.6,154.7 L400.5,158.2 L396.7,158.2Z" fill="#111"/>
<path d="M399.7,154.6 L401.6,158.1 L397.8,158.1Z" fill="#111"/>
<path d="M400.9,154.7 L402.8,158.2 L399.0,158.2Z" fill="#111"/>
<path d="M402.1,154.5 L404.0,158.0 L400.2,158.0Z" fill="#111"/>
<path d="M403.3,154.9 L405.2,158.4 L401.4,158.4Z" fill="#111"/>
<path d="M404.5,154.7 L406.4,158.2 L402.6,158.2Z" fill="#111"/>
<path d="M405.6,154.4 L407.5,157.9 L403.7,157.9Z" fill="#111"/>
<path d="M406.8,154.4 L408.7,157.9 L404.9,157.9Z" fill="#111"/>
<path d="M408.0,154.9 L409.9,158.4 L406.1,158.4Z" fill="#111"/>
<path d="M409.2,154.8 L411.1,158.3 L407.3,158.3Z" fill="#111"/>
<path d="M410.4,154.4 L412.2,157.9 L408.5,157.9Z" fill="#111"/>
<path d="M411.5,154.8 L413.4,158.3 L409.6,158.3Z" fill="#111"/>
<path d="M412.7,154.9 L414.6,158.4 L410.8,158.4Z" fill="#111"/>
<path d="M413.9,154.5 L415.8,158.0 L412.0,158.0Z" fill="#111"/>
<path d="M415.1,154.7 L417.0,158.2 L413.2,158.2Z" fill="#111"/>
<path d="M416.2,154.5 L418.1,158.0 L414.3,158.0Z" fill="#111"/>
<path d="M417.4,154.7 L419.3,158.2 L415.5,158.2Z" fill="#111"/>
<path d="M418.6,154.7 L420.5,158.2 L416.7,158.2Z" fill="#111"/>
<path d="M419.8,154.7 L421.7,158.2 L417.9,158.2Z" fill="#111"/>
<path d="M421.0,154.8 L422.9,158.3 L419.1,158.3Z" fill="#111"/>
<path d="M422.1,154.4 L424.0,157.9 L420.2,157.9Z" fill="#111"/>
<path d="M423.3,154.6 L425.2,158.1 L421.4,158.1Z" fill="#111"/>
<path d="M424.5,154.5 L426.4,158.0 L422.6,158.0Z" fill="#111"/>
<path d="M425.7,154.4 L427.6,157.9 L423.8,157.9Z" fill="#111"/>
<path d="M426.8,154.8 L428.7,158.3 L424.9,158.3Z" fill="#111"/>
<path d="M428.0,154.4 L429.9,157.9 L426.1,157.9Z" fill="#111"/>
<path d="M429.2,154.5 L431.1,158.0 L427.3,158.0Z" fill="#111"/>
<path d="M430.4,154.7 L432.3,158.2 L428.5,158.2Z" fill="#111"/>
<path d="M431.6,154.6 L433.5,158.1 L429.7,158.1Z" fill="#111"/>
<path d="M432.7,154.9 L434.6,158.4 L430.8,158.4Z" fill="#111"/>
<path d="M433.9,154.5 L435.8,158.0 L432.0,158.0Z" fill="#111"/>
<path d="M435.1,154.9 L437.0,158.4 L433.2,158.4Z" fill="#111"/>
<path d="M436.3,154.7 L438.2,158.2 L434.4,158.2Z" fill="#111"/>
<path d="M437.5,154.9 L439.4,158.4 L435.6,158.4Z" fill="#111"/>
<path d="M438.6,154.9 L440.5,158.4 L436.7,158.4Z" fill="#111"/>
<path d="M439.8,154.6 L441.7,158.1 L437.9,158.1Z" fill="#111"/>
<path d="M441.0,154.7 L442.9,158.2 L439.1,158.2Z" fill="#111"/>
<path d="M442.2,154.6 L444.1,158.1 L440.3,158.1Z" fill="#111"/>
<path d="M443.3,154.5 L445.2,158.0 L441.4,158.0Z" fill="#111"/>
<path d="M444.5,154.4 L446.4,157.9 L442.6,157.9Z" fill="#111"/>
<path d="M445.7,154.9 L447.6,158.4 L443.8,158.4Z" fill="#111"/>
<path d="M446.9,154.6 L448.8,158.1 L445.0,158.1Z" fill="#111"/>
<path d="M448.1,154.6 L450.0,158.1 L446.2,158.1Z" fill="#111"/>
<path d="M449.2,154.6 L451.1,158.1 L447.3,158.1Z" fill="#111"/>
<path d="M450.4,154.7 L452.3,158.2 L448.5,158.2Z" fill="#111"/>
<path d="M451.6,154.6 L453.5,158.1 L449.7,158.1Z" fill="#111"/>
<path d="M452.8,154.5 L454.7,158.0 L450.9,158.0Z" fill="#111"/>
<path d="M453.9,154.7 L455.8,158.2 L452.0,158.2Z" fill="#111"/>
<path d="M455.1,154.7 L457.0,158.2 L453.2,158.2Z" fill="#111"/>
<path d="M456.3,154.6 L458.2,158.1 L454.4,158.1Z" fill="#111"/>
<path d="M457.5,154.9 L459.4,158.4 L455.6,158.4Z" fill="#111"/>
<path d="M458.7,154.7 L460.6,158.2 L456.8,158.2Z" fill="#111"/>
<path d="M459.8,154.9 L461.7,158.4 L457.9,158.4Z" fill="#111"/>
<path d="M461.0,154.9 L462.9,158.4 L459.1,158.4Z" fill="#111"/>
<path d="M462.2,154.9 L464.1,158.4 L460.3,158.4Z" fill="#111"/>
<path d="M463.4,154.9 L465.3,158.4 L461.5,158.4Z" fill="#111"/>
<path d="M464.6,154.9 L466.5,158.4 L462.7,158.4Z" fill="#111"/>
<path d="M465.7,154.7 L467.6,158.2 L463.8,158.2Z" fill="#111"/>
<path d="M466.9,154.6 L468.8,158.1 L465.0,158.1Z" fill="#111"/>
<path d="M468.1,154.5 L470.0,158.0 L466.2,158.0Z" fill="#111"/>
<path d="M469.3,154.7 L471.2,158.2 L467.4,158.2Z" fill="#111"/>
<path d="M470.4,154.4 L472.3,157.9 L468.5,157.9Z" fill="#111"/>
<path d="M471.6,154.7 L473.5,158.2 L469.7,158.2Z" fill="#111"/>
<path d="M472.8,154.5 L474.7,158.0 L470.9,158.0Z" fill="#111"/>
<path d="M474.0,154.6 L475.9,158.1 L472.1,158.1Z" fill="#111"/>
<path d="M475.2,154.6 L477.1,158.1 L473.3,158.1Z" fill="#111"/>
<path d="M476.3,154.8 L478.2,158.3 L474.4,158.3Z" fill="#111"/>
<path d="M477.5,154.4 L479.4,157.9 L475.6,157.9Z" fill="#111"/>
<path d="M478.7,154.5 L480.6,158.0 L476.8,158.0Z" fill="#111"/>
<path d="M479.9,154.9 L481.8,158.4 L478.0,158.4Z" fill="#111"/>
<path d="M481.1,154.7 L482.9,158.2 L479.2,158.2Z" fill="#111"/>
<path d="M482.2,154.4 L484.1,157.9 L480.3,157.9Z" fill="#111"/>
<path d="M483.4,154.9 L485.3,158.4 L481.5,158.4Z" fill="#111"/>
<path d="M484.6,154.8 L486.5,158.3 L482.7,158.3Z" fill="#111"/>
<path d="M485.8,154.5 L487.7,158.0 L483.9,158.0Z" fill="#111"/>
<path d="M486.9,154.9 L488.8,158.4 L485.0,158.4Z" fill="#111"/>
<path d="M488.1,154.5 L490.0,158.0 L486.2,158.0Z" fill="#111"/>
<path d="M489.3,154.6 L491.2,158.1 L487.4,158.1Z" fill="#111"/>
<path d="M490.5,154.5 L492.4,158.0 L488.6,158.0Z" fill="#111"/>
<path d="M491.7,154.6 L493.6,158.1 L489.8,158.1Z" fill="#111"/>
<path d="M492.8,154.4 L494.7,157.9 L490.9,157.9Z" fill="#111"/>
<path d="M494.0,154.8 L495.9,158.3 L492.1,158.3Z" fill="#111"/>
<path d="M495.2,154.6 L497.1,158.1 L493.3,158.1Z" fill="#111"/>
<path d="M496.4,154.9 L498.3,158.4 L494.5,158.4Z" fill="#111"/>
<path d="M497.5,154.6 L499.4,158.1 L495.6,158.1Z" fill="#111"/>
<path d="M498.7,154.7 L500.6,158.2 L496.8,158.2Z" fill="#111"/>
<path d="M499.9,154.4 L501.8,157.9 L498.0,157.9Z" fill="#111"/>
<path d="M501.1,154.4 L503.0,157.9 L499.2,157.9Z" fill="#111"/>
<path d="M502.3,154.9 L504.2,158.4 L500.4,158.4Z" fill="#111"/>
<path d="M503.4,154.9 L505.3,158.4 L501.5,158.4Z" fill="#111"/>
<path d="M504.6,154.9 L506.5,158.4 L502.7,158.4Z" fill="#111"/>
<path d="M505.8,154.9 L507.7,158.4 L503.9,158.4Z" fill="#111"/>
<path d="M507.0,154.5 L508.9,158.0 L505.1,158.0Z" fill="#111"/>
<path d="M508.2,154.7 L510.1,158.2 L506.3,158.2Z" fill="#111"/>
<path d="M509.3,154.7 L511.2,158.2 L507.4,158.2Z" fill="#111"/>
<path d="M510.5,154.7 L512.4,158.2 L508.6,158.2Z" fill="#111"/>
<path d="M511.7,154.9 L513.6,158.4 L509.8,158.4Z" fill="#111"/>
<path d="M512.9,154.7 L514.8,158.2 L511.0,158.2Z" fill="#111"/>
<path d="M514.0,154.4 L515.9,157.9 L512.1,157.9Z" fill="#111"/>
<path d="M515.2,154.5 L517.1,158.0 L513.3,158.0Z" fill="#111"/>
<path d="M516.4,154.6 L518.3,158.1 L514.5,158.1Z" fill="#111"/>
<circle cx="304.3" cy="154.3" r="1.75" fill="#111"/>
<circle cx="305.5" cy="153.7" r="1.75" fill="#111"/>
<circle cx="306.7" cy="155.4" r="1.75" fill="#111"/>
<circle cx="307.8" cy="156.1" r="1.75" fill="#111"/>
<circle cx="309.0" cy="155.9" r="1.75" fill="#111"/>
<circle cx="310.2" cy="155.9" r="1.75" fill="#111"/>
<circle cx="311.4" cy="156.8" r="1.75" fill="#111"/>
<circle cx="312.5" cy="156.7" r="1.75" fill="#111"/>
<circle cx="313.7" cy="156.9" r="1.75" fill="#111"/>
<circle cx="314.9" cy="156.4" r="1.75" fill="#111"/>
<circle cx="316.1" cy="156.9" r="1.75" fill="#111"/>
<circle cx="317.3" cy="156.4" r="1.75" fill="#111"/>
<circle cx="318.4" cy="156.2" r="1.75" fill="#111"/>
<circle cx="319.6" cy="156.6" r="1.75" fill="#111"/>
<circle cx="320.8" cy="156.1" r="1.75" fill="#111"/>
<circle cx="322.0" cy="156.2" r="1.75" fill="#111"/>
<circle cx="323.2" cy="156.9" r="1.75" fill="#111"/>
<circle cx="324.3" cy="156.2" r="1.75" fill="#111"/>
<circle cx="325.5" cy="156.4" r="1.75" fill="#111"/>
<circle cx="326.7" cy="156.1" r="1.75" fill="#111"/>
<circle cx="327.9" cy="155.9" r="1.75" fill="#111"/>
<circle cx="329.0" cy="154.6" r="1.75" fill="#111"/>
<circle cx="330.2" cy="153.3" r="1.75" fill="#111"/>
<circle cx="331.4" cy="151.4" r="1.75" fill="#111"/>
<circle cx="332.6" cy="148.3" r="1.75" fill="#111"/>
<circle cx="333.8" cy="145.2" r="1.75" fill="#111"/>
<circle cx="334.9" cy="141.7" r="1.75" fill="#111"/>
<circle cx="336.1" cy="138.5" r="1.75" fill="#111"/>
<circle cx="337.3" cy="120.2" r="1.75" fill="#111"/>
<circle cx="338.5" cy="47.2" r="1.75" fill="#111"/>
<circle cx="339.7" cy="24.6" r="1.75" fill="#111"/>
<circle cx="340.8" cy="22.5" r="1.75" fill="#111"/>
<circle cx="342.0" cy="33.5" r="1.75" fill="#111"/>
<circle cx="343.2" cy="48.2" r="1.75" fill="#111"/>
<circle cx="344.4" cy="71.0" r="1.75" fill="#111"/>
<circle cx="345.5" cy="88.5" r="1.75" fill="#111"/>
<circle cx="346.7" cy="104.9" r="1.75" fill="#111"/>
<circle cx="347.9" cy="113.7" r="1.75" fill="#111"/>
<circle cx="349.1" cy="120.5" r="1.75" fill="#111"/>
<circle cx="350.3" cy="125.9" r="1.75" fill="#111"/>
<circle cx="351.4" cy="129.8" r="1.75" fill="#111"/>
<circle cx="352.6" cy="133.1" r="1.75" fill="#111"/>
<circle cx="353.8" cy="135.9" r="1.75" fill="#111"/>
<circle cx="355.0" cy="138.2" r="1.75" fill="#111"/>
<circle cx="356.1" cy="140.4" r="1.75" fill="#111"/>
<circle cx="357.3" cy="142.3" r="1.75" fill="#111"/>
<circle cx="358.5" cy="144.0" r="1.75" fill="#111"/>
<circle cx="359.7" cy="145.6" r="1.75" fill="#111"/>
<circle cx="360.9" cy="147.0" r="1.75" fill="#111"/>
<circle cx="362.0" cy="148.4" r="1.75" fill="#111"/>
<circle cx="363.2" cy="149.6" r="1.75" fill="#111"/>
<circle cx="364.4" cy="151.1" r="1.75" fill="#111"/>
<circle cx="365.6" cy="151.6" r="1.75" fill="#111"/>
<circle cx="366.8" cy="153.0" r="1.75" fill="#111"/>
<circle cx="367.9" cy="153.3" r="1.75" fill="#111"/>
<circle cx="369.1" cy="154.1" r="1.75" fill="#111"/>
<circle cx="370.3" cy="154.2" r="1.75" fill="#111"/>
<circle cx="371.5" cy="154.5" r="1.75" fill="#111"/>
<circle cx="372.6" cy="154.7" r="1.75" fill="#111"/>
<circle cx="373.8" cy="154.9" r="1.75" fill="#111"/>
<circle cx="375.0" cy="155.4" r="1.75" fill="#111"/>
<circle cx="376.2" cy="155.1" r="1.75" fill="#111"/>
<circle cx="377.4" cy="155.6" r="1.75" fill="#111"/>
<circle cx="378.5" cy="155.4" r="1.75" fill="#111"/>
<circle cx="379.7" cy="155.7" r="1.75" fill="#111"/>
<circle cx="380.9" cy="155.7" r="1.75" fill="#111"/>
<circle cx="382.1" cy="156.2" r="1.75" fill="#111"/>
<circle cx="383.2" cy="156.0" r="1.75" fill="#111"/>
<circle cx="384.4" cy="155.3" r="1.75" fill="#111"/>
<circle cx="385.6" cy="156.2" r="1.75" fill="#111"/>
<circle cx="386.8" cy="155.7" r="1.75" fill="#111"/>
<circle cx="388.0" cy="155.8" r="1.75" fill="#111"/>
<circle cx="389.1" cy="155.8" r="1.75" fill="#111"/>
<circle cx="390.3" cy="156.1" r="1.75" fill="#111"/>
<circle cx="391.5" cy="156.0" r="1.75" fill="#111"/>
<circle cx="392.7" cy="156.6" r="1.75" fill="#111"/>
<circle cx="393.9" cy="156.6" r="1.75" fill="#111"/>
<circle cx="395.0" cy="156.5" r="1.75" fill="#111"/>
<circle cx="396.2" cy="156.5" r="1.75" fill="#111"/>
<circle cx="397.4" cy="156.6" r="1.75" fill="#111"/>
<circle cx="398.6" cy="156.5" r="1.75" fill="#111"/>
<circle cx="399.7" cy="156.1" r="1.75" fill="#111"/>
<circle cx="400.9" cy="156.5" r="1.75" fill="#111"/>
<circle cx="402.1" cy="155.6" r="1.75" fill="#111"/>
<circle cx="403.3" cy="155.9" r="1.75" fill="#111"/>
<circle cx="404.5" cy="156.1" r="1.75" fill="#111"/>
<circle cx="405.6" cy="155.9" r="1.75" fill="#111"/>
<circle cx="406.8" cy="156.4" r="1.75" fill="#111"/>
<circle cx="408.0" cy="155.6" r="1.75" fill="#111"/>
<circle cx="409.2" cy="155.7" r="1.75" fill="#111"/>
<circle cx="410.4" cy="155.9" r="1.75" fill="#111"/>
<circle cx="411.5" cy="156.1" r="1.75" fill="#111"/>
<circle cx="412.7" cy="155.7" r="1.75" fill="#111"/>
<circle cx="413.9" cy="155.8" r="1.75" fill="#111"/>
<circle cx="415.1" cy="155.9" r="1.75" fill="#111"/>
<circle cx="416.2" cy="155.6" r="1.75" fill="#111"/>
<circle cx="417.4" cy="156.0" r="1.75" fill="#111"/>
<circle cx="418.6" cy="156.3" r="1.75" fill="#111"/>
<circle cx="419.8" cy="156.1" r="1.75" fill="#111"/>
<circle cx="421.0" cy="156.5" r="1.75" fill="#111"/>
<circle cx="422.1" cy="156.5" r="1.75" fill="#111"/>
<circle cx="423.3" cy="155.9" r="1.75" fill="#111"/>
<circle cx="424.5" cy="155.8" r="1.75" fill="#111"/>
<circle cx="425.7" cy="155.6" r="1.75" fill="#111"/>
<circle cx="426.8" cy="155.7" r="1.75" fill="#111"/>
<circle cx="428.0" cy="156.1" r="1.75" fill="#111"/>
<circle cx="429.2" cy="156.6" r="1.75" fill="#111"/>
<circle cx="430.4" cy="156.1" r="1.75" fill="#111"/>
<circle cx="431.6" cy="155.6" r="1.75" fill="#111"/>
<circle cx="432.7" cy="155.8" r="1.75" fill="#111"/>
<circle cx="433.9" cy="156.1" r="1.75" fill="#111"/>
<circle cx="435.1" cy="156.2" r="1.75" fill="#111"/>
<circle cx="436.3" cy="156.4" r="1.75" fill="#111"/>
<circle cx="437.5" cy="156.5" r="1.75" fill="#111"/>
<circle cx="438.6" cy="156.6" r="1.75" fill="#111"/>
<circle cx="439.8" cy="155.7" r="1.75" fill="#111"/>
<circle cx="441.0" cy="156.0" r="1.75" fill="#111"/>
<circle cx="442.2" cy="156.5" r="1.75" fill="#111"/>
<circle cx="443.3" cy="156.2" r="1.75" fill="#111"/>
<circle cx="444.5" cy="156.6" r="1.75" fill="#111"/>
<circle cx="445.7" cy="156.5" r="1.75" fill="#111"/>
<circle cx="446.9" cy="155.9" r="1.75" fill="#111"/>
<circle cx="448.1" cy="155.9" r="1.75" fill="#111"/>
<circle cx="449.2" cy="156.1" r="1.75" fill="#111"/>
<circle cx="450.4" cy="156.4" r="1.75" fill="#111"/>
<circle cx="451.6" cy="155.9" r="1.75" fill="#111"/>
<circle cx="452.8" cy="155.6" r="1.75" fill="#111"/>
<circle cx="453.9" cy="156.2" r="1.75" fill="#111"/>
<circle cx="455.1" cy="156.6" r="1.75" fill="#111"/>
<circle cx="456.3" cy="156.6" r="1.75" fill="#111"/>
<circle cx="457.5" cy="156.6" r="1.75" fill="#111"/>
<circle cx="458.7" cy="155.6" r="1.75" fill="#111"/>
<circle cx="459.8" cy="156.1" r="1.75" fill="#111"/>
<circle cx="461.0" cy="155.7" r="1.75" fill="#111"/>
<circle cx="462.2" cy="156.5" r="1.75" fill="#111"/>
<circle cx="463.4" cy="156.4" r="1.75" fill="#111"/>
<circle cx="464.6" cy="155.9" r="1.75" fill="#111"/>
<circle cx="465.7" cy="155.7" r="1.75" fill="#111"/>
<circle cx="466.9" cy="156.3" r="1.75" fill="#111"/>
<circle cx="468.1" cy="156.6" r="1.75" fill="#111"/>
<circle cx="469.3" cy="155.7" r="1.75" fill="#111"/>
<circle cx="470.4" cy="156.4" r="1.75" fill="#111"/>
<circle cx="471.6" cy="155.8" r="1.75" fill="#111"/>
<circle cx="472.8" cy="156.5" r="1.75" fill="#111"/>
<circle cx="474.0" cy="155.9" r="1.75" fill="#111"/>
<circle cx="475.2" cy="155.7" r="1.75" fill="#111"/>
<circle cx="476.3" cy="155.9" r="1.75" fill="#111"/>
<circle cx="477.5" cy="156.3" r="1.75" fill="#111"/>
<circle cx="478.7" cy="155.9" r="1.75" fill="#111"/>
<circle cx="479.9" cy="156.5" r="1.75" fill="#111"/>
<circle cx="481.1" cy="156.3" r="1.75" fill="#111"/>
<circle cx="482.2" cy="156.2" r="1.75" fill="#111"/>
<circle cx="483.4" cy="155.7" r="1.75" fill="#111"/>
<circle cx="484.6" cy="156.5" r="1.75" fill="#111"/>
<circle cx="485.8" cy="155.7" r="1.75" fill="#111"/>
<circle cx="486.9" cy="155.8" r="1.75" fill="#111"/>
<circle cx="488.1" cy="155.6" r="1.75" fill="#111"/>
<circle cx="489.3" cy="156.3" r="1.75" fill="#111"/>
<circle cx="490.5" cy="156.5" r="1.75" fill="#111"/>
<circle cx="491.7" cy="156.4" r="1.75" fill="#111"/>
<circle cx="492.8" cy="155.7" r="1.75" fill="#111"/>
<circle cx="494.0" cy="155.6" r="1.75" fill="#111"/>
<circle cx="495.2" cy="155.9" r="1.75" fill="#111"/>
<circle cx="496.4" cy="156.1" r="1.75" fill="#111"/>
<circle cx="497.5" cy="156.4" r="1.75" fill="#111"/>
<circle cx="498.7" cy="155.7" r="1.75" fill="#111"/>
<circle cx="499.9" cy="155.7" r="1.75" fill="#111"/>
<circle cx="501.1" cy="156.6" r="1.75" fill="#111"/>
<circle cx="502.3" cy="156.4" r="1.75" fill="#111"/>
<circle cx="503.4" cy="155.7" r="1.75" fill="#111"/>
<circle cx="504.6" cy="155.7" r="1.75" fill="#111"/>
<circle cx="505.8" cy="156.3" r="1.75" fill="#111"/>
<circle cx="507.0" cy="156.4" r="1.75" fill="#111"/>
<circle cx="508.2" cy="156.2" r="1.75" fill="#111"/>
<circle cx="509.3" cy="156.1" r="1.75" fill="#111"/>
<circle cx="510.5" cy="156.6" r="1.75" fill="#111"/>
<circle cx="511.7" cy="155.7" r="1.75" fill="#111"/>
<circle cx="512.9" cy="156.1" r="1.75" fill="#111"/>
<circle cx="514.0" cy="155.8" r="1.75" fill="#111"/>
<circle cx="515.2" cy="156.4" r="1.75" fill="#111"/>
<circle cx="516.4" cy="155.6" r="1.75" fill="#111"/>
<circle cx="371.5" cy="154.4" r="1.65" fill="#fff" stroke="#000" stroke-width="1.05"/>
<circle cx="372.6" cy="152.4" r="1.65" fill="#fff" stroke="#000" stroke-width="1.05"/>
<circle cx="373.8" cy="147.7" r="1.65" fill="#fff" stroke="#000" stroke-width="1.05"/>
<circle cx="375.0" cy="141.2" r="1.65" fill="#fff" stroke="#000" stroke-width="1.05"/>
<circle cx="376.2" cy="133.2" r="1.65" fill="#fff" stroke="#000" stroke-width="1.05"/>
<circle cx="377.4" cy="124.0" r="1.65" fill="#fff" stroke="#000" stroke-width="1.05"/>
<circle cx="378.5" cy="111.4" r="1.65" fill="#fff" stroke="#000" stroke-width="1.05"/>
<circle cx="379.7" cy="105.5" r="1.65" fill="#fff" stroke="#000" stroke-width="1.05"/>
<circle cx="380.9" cy="99.8" r="1.65" fill="#fff" stroke="#000" stroke-width="1.05"/>
<circle cx="382.1" cy="97.5" r="1.65" fill="#fff" stroke="#000" stroke-width="1.05"/>
<circle cx="383.2" cy="98.6" r="1.65" fill="#fff" stroke="#000" stroke-width="1.05"/>
<circle cx="384.4" cy="101.6" r="1.65" fill="#fff" stroke="#000" stroke-width="1.05"/>
<circle cx="385.6" cy="105.1" r="1.65" fill="#fff" stroke="#000" stroke-width="1.05"/>
<circle cx="386.8" cy="109.7" r="1.65" fill="#fff" stroke="#000" stroke-width="1.05"/>
<circle cx="388.0" cy="114.0" r="1.65" fill="#fff" stroke="#000" stroke-width="1.05"/>
<circle cx="389.1" cy="118.5" r="1.65" fill="#fff" stroke="#000" stroke-width="1.05"/>
<circle cx="390.3" cy="124.1" r="1.65" fill="#fff" stroke="#000" stroke-width="1.05"/>
<circle cx="391.5" cy="127.8" r="1.65" fill="#fff" stroke="#000" stroke-width="1.05"/>
<circle cx="392.7" cy="131.0" r="1.65" fill="#fff" stroke="#000" stroke-width="1.05"/>
<circle cx="393.9" cy="133.0" r="1.65" fill="#fff" stroke="#000" stroke-width="1.05"/>
<circle cx="395.0" cy="134.9" r="1.65" fill="#fff" stroke="#000" stroke-width="1.05"/>
<circle cx="396.2" cy="137.0" r="1.65" fill="#fff" stroke="#000" stroke-width="1.05"/>
<circle cx="397.4" cy="139.5" r="1.65" fill="#fff" stroke="#000" stroke-width="1.05"/>
<circle cx="398.6" cy="140.6" r="1.65" fill="#fff" stroke="#000" stroke-width="1.05"/>
<circle cx="399.7" cy="141.6" r="1.65" fill="#fff" stroke="#000" stroke-width="1.05"/>
<circle cx="400.9" cy="143.1" r="1.65" fill="#fff" stroke="#000" stroke-width="1.05"/>
<circle cx="402.1" cy="144.7" r="1.65" fill="#fff" stroke="#000" stroke-width="1.05"/>
<circle cx="403.3" cy="146.0" r="1.65" fill="#fff" stroke="#000" stroke-width="1.05"/>
<circle cx="404.5" cy="147.1" r="1.65" fill="#fff" stroke="#000" stroke-width="1.05"/>
<circle cx="405.6" cy="148.1" r="1.65" fill="#fff" stroke="#000" stroke-width="1.05"/>
<circle cx="406.8" cy="149.0" r="1.65" fill="#fff" stroke="#000" stroke-width="1.05"/>
<circle cx="408.0" cy="149.5" r="1.65" fill="#fff" stroke="#000" stroke-width="1.05"/>
<circle cx="409.2" cy="149.8" r="1.65" fill="#fff" stroke="#000" stroke-width="1.05"/>
<circle cx="410.4" cy="150.0" r="1.65" fill="#fff" stroke="#000" stroke-width="1.05"/>
<circle cx="411.5" cy="150.3" r="1.65" fill="#fff" stroke="#000" stroke-width="1.05"/>
<circle cx="412.7" cy="150.7" r="1.65" fill="#fff" stroke="#000" stroke-width="1.05"/>
<circle cx="413.9" cy="151.8" r="1.65" fill="#fff" stroke="#000" stroke-width="1.05"/>
<circle cx="415.1" cy="152.1" r="1.65" fill="#fff" stroke="#000" stroke-width="1.05"/>
<circle cx="416.2" cy="152.6" r="1.65" fill="#fff" stroke="#000" stroke-width="1.05"/>
<circle cx="417.4" cy="153.2" r="1.65" fill="#fff" stroke="#000" stroke-width="1.05"/>
<circle cx="418.6" cy="153.5" r="1.65" fill="#fff" stroke="#000" stroke-width="1.05"/>
<circle cx="419.8" cy="154.2" r="1.65" fill="#fff" stroke="#000" stroke-width="1.05"/>
<circle cx="421.0" cy="154.6" r="1.65" fill="#fff" stroke="#000" stroke-width="1.05"/>
<circle cx="422.1" cy="154.7" r="1.65" fill="#fff" stroke="#000" stroke-width="1.05"/>
<circle cx="423.3" cy="155.1" r="1.65" fill="#fff" stroke="#000" stroke-width="1.05"/>
<circle cx="424.5" cy="155.2" r="1.65" fill="#fff" stroke="#000" stroke-width="1.05"/>
<circle cx="425.7" cy="155.2" r="1.65" fill="#fff" stroke="#000" stroke-width="1.05"/>
<circle cx="463.4" cy="154.8" r="1.65" fill="#fff" stroke="#000" stroke-width="1.05"/>
</g>
<g id="C">
<text x="0.5" y="190.7" font-family="Liberation Sans, sans-serif" font-weight="bold" font-size="12" stroke="#000" stroke-width="0.3">C</text>
<path d="M35.2,194.9 V343.5 H243.2 V194.9 Z" fill="none" stroke="#111" stroke-width="1.4"/>
<text x="27.3" y="345.5" font-family="Liberation Sans, sans-serif" font-size="7.6" text-anchor="end" fill="#222" stroke="#222" stroke-width="0.18">0</text>
<line x1="35.2" y1="322.3" x2="37.8" y2="322.3" stroke="#111" stroke-width="0.9"/>
<text x="27.3" y="324.3" font-family="Liberation Sans, sans-serif" font-size="7.6" text-anchor="end" fill="#222" stroke="#222" stroke-width="0.18">50</text>
<line x1="35.2" y1="301.1" x2="37.8" y2="301.1" stroke="#111" stroke-width="0.9"/>
<text x="27.3" y="303.1" font-family="Liberation Sans, sans-serif" font-size="7.6" text-anchor="end" fill="#222" stroke="#222" stroke-width="0.18">100</text>
<line x1="35.2" y1="279.9" x2="37.8" y2="279.9" stroke="#111" stroke-width="0.9"/>
<text x="27.3" y="281.9" font-family="Liberation Sans, sans-serif" font-size="7.6" text-anchor="end" fill="#222" stroke="#222" stroke-width="0.18">150</text>
<line x1="35.2" y1="258.7" x2="37.8" y2="258.7" stroke="#111" stroke-width="0.9"/>
<text x="27.3" y="260.7" font-family="Liberation Sans, sans-serif" font-size="7.6" text-anchor="end" fill="#222" stroke="#222" stroke-width="0.18">200</text>
<line x1="35.2" y1="237.5" x2="37.8" y2="237.5" stroke="#111" stroke-width="0.9"/>
<text x="27.3" y="239.5" font-family="Liberation Sans, sans-serif" font-size="7.6" text-anchor="end" fill="#222" stroke="#222" stroke-width="0.18">250</text>
<line x1="35.2" y1="216.3" x2="37.8" y2="216.3" stroke="#111" stroke-width="0.9"/>
<text x="27.3" y="218.3" font-family="Liberation Sans, sans-serif" font-size="7.6" text-anchor="end" fill="#222" stroke="#222" stroke-width="0.18">300</text>
<text x="27.3" y="197.1" font-family="Liberation Sans, sans-serif" font-size="7.6" text-anchor="end" fill="#222" stroke="#222" stroke-width="0.18">350</text>
<text x="35.2" y="355.0" font-family="Liberation Sans, sans-serif" font-size="7.6" text-anchor="middle" fill="#222" stroke="#222" stroke-width="0.18">0</text>
<line x1="75.7" y1="343.5" x2="75.7" y2="340.5" stroke="#111" stroke-width="1"/>
<text x="75.7" y="355.0" font-family="Liberation Sans, sans-serif" font-size="7.6" text-anchor="middle" fill="#222" stroke="#222" stroke-width="0.18">100</text>
<line x1="116.1" y1="343.5" x2="116.1" y2="340.5" stroke="#111" stroke-width="1"/>
<text x="116.1" y="355.0" font-family="Liberation Sans, sans-serif" font-size="7.6" text-anchor="middle" fill="#222" stroke="#222" stroke-width="0.18">200</text>
<line x1="156.6" y1="343.5" x2="156.6" y2="340.5" stroke="#111" stroke-width="1"/>
<text x="156.6" y="355.0" font-family="Liberation Sans, sans-serif" font-size="7.6" text-anchor="middle" fill="#222" stroke="#222" stroke-width="0.18">300</text>
<line x1="197.0" y1="343.5" x2="197.0" y2="340.5" stroke="#111" stroke-width="1"/>
<text x="197.0" y="355.0" font-family="Liberation Sans, sans-serif" font-size="7.6" text-anchor="middle" fill="#222" stroke="#222" stroke-width="0.18">400</text>
<text x="237.5" y="355.0" font-family="Liberation Sans, sans-serif" font-size="7.6" text-anchor="middle" fill="#222" stroke="#222" stroke-width="0.18">500</text>
<text x="140" y="367.3" font-family="Liberation Sans, sans-serif" font-weight="bold" font-size="7.6" text-anchor="middle" fill="#222" textLength="63" lengthAdjust="spacingAndGlyphs">[compound] in µM</text>
<text transform="translate(6.3,264) rotate(-90)" font-family="Liberation Sans, sans-serif" font-weight="bold" font-size="7.0" text-anchor="middle" fill="#222" textLength="65" lengthAdjust="spacingAndGlyphs">Thrombin peak (nM)</text>
<polyline points="35.2,216.3 75.7,222.7 116.1,248.9 156.6,287.1 197.0,342.2 237.5,343.5" fill="none" stroke="#111" stroke-width="1.4"/>
<polyline points="35.2,207.8 75.7,207.4 116.1,217.1 156.6,226.5 197.0,270.1 237.5,331.2" fill="none" stroke="#111" stroke-width="1.4"/>
<line x1="75.7" y1="201.0" x2="75.7" y2="213.8" stroke="#333" stroke-width="0.8"/>
<line x1="74.5" y1="213.8" x2="76.9" y2="213.8" stroke="#333" stroke-width="0.8"/>
<line x1="74.5" y1="201.0" x2="76.9" y2="201.0" stroke="#333" stroke-width="0.8"/>
<line x1="116.1" y1="212.9" x2="116.1" y2="221.4" stroke="#333" stroke-width="0.8"/>
<line x1="114.9" y1="221.4" x2="117.3" y2="221.4" stroke="#333" stroke-width="0.8"/>
<line x1="114.9" y1="212.9" x2="117.3" y2="212.9" stroke="#333" stroke-width="0.8"/>
<line x1="116.1" y1="241.3" x2="116.1" y2="256.6" stroke="#333" stroke-width="0.8"/>
<line x1="114.9" y1="256.6" x2="117.3" y2="256.6" stroke="#333" stroke-width="0.8"/>
<line x1="114.9" y1="241.3" x2="117.3" y2="241.3" stroke="#333" stroke-width="0.8"/>
<line x1="156.6" y1="283.7" x2="156.6" y2="290.5" stroke="#333" stroke-width="0.8"/>
<line x1="155.4" y1="290.5" x2="157.8" y2="290.5" stroke="#333" stroke-width="0.8"/>
<line x1="155.4" y1="283.7" x2="157.8" y2="283.7" stroke="#333" stroke-width="0.8"/>
<line x1="237.5" y1="314.2" x2="237.5" y2="343.5" stroke="#333" stroke-width="0.8"/>
<line x1="236.3" y1="343.5" x2="238.7" y2="343.5" stroke="#333" stroke-width="0.8"/>
<line x1="236.3" y1="314.2" x2="238.7" y2="314.2" stroke="#333" stroke-width="0.8"/>
<circle cx="35.2" cy="216.3" r="3.2" fill="none" stroke="#111" stroke-width="1"/>
<circle cx="75.7" cy="222.7" r="3.2" fill="none" stroke="#111" stroke-width="1"/>
<circle cx="116.1" cy="248.9" r="3.2" fill="none" stroke="#111" stroke-width="1"/>
<circle cx="156.6" cy="287.1" r="3.2" fill="none" stroke="#111" stroke-width="1"/>
<circle cx="197.0" cy="342.2" r="3.2" fill="none" stroke="#111" stroke-width="1"/>
<circle cx="237.5" cy="343.5" r="3.2" fill="none" stroke="#111" stroke-width="1"/>
<circle cx="35.2" cy="207.8" r="3.4" fill="#111"/>
<circle cx="75.7" cy="207.4" r="3.4" fill="#111"/>
<circle cx="116.1" cy="217.1" r="3.4" fill="#111"/>
<circle cx="156.6" cy="226.5" r="3.4" fill="#111"/>
<circle cx="197.0" cy="270.1" r="3.4" fill="#111"/>
<circle cx="237.5" cy="331.2" r="3.4" fill="#111"/>
<line x1="201" y1="220.9" x2="215.2" y2="220.9" stroke="#222" stroke-width="1.3"/>
<circle cx="208.3" cy="220.9" r="1.9" fill="#fff" stroke="#222" stroke-width="0.9"/>
<line x1="201" y1="231.9" x2="215.2" y2="231.9" stroke="#222" stroke-width="1.3"/>
<circle cx="208.3" cy="231.9" r="2.3" fill="#111"/>
<text x="215.8" y="223" font-family="Liberation Sans, sans-serif" font-size="5.6" fill="#555">PPP</text>
<text x="215.8" y="234" font-family="Liberation Sans, sans-serif" font-size="5.6" fill="#555">PRP</text>
</g>
<g id="D">
<text x="253.3" y="189.7" font-family="Liberation Sans, sans-serif" font-weight="bold" font-size="11" stroke="#000" stroke-width="0.3" textLength="8.2" lengthAdjust="spacingAndGlyphs">D</text>
<text x="258.1" y="196.0" font-family="Liberation Sans, sans-serif" font-weight="bold" font-size="6.1" fill="#111" stroke="#111" stroke-width="0.25">mm</text>
<line x1="313.3" y1="197.6" x2="313.3" y2="360.8" stroke="#b5b5b5" stroke-width="0.8"/>
<line x1="353.8" y1="197.6" x2="353.8" y2="360.8" stroke="#b5b5b5" stroke-width="0.8"/>
<line x1="394.4" y1="197.6" x2="394.4" y2="360.8" stroke="#b5b5b5" stroke-width="0.8"/>
<line x1="434.9" y1="197.6" x2="434.9" y2="360.8" stroke="#b5b5b5" stroke-width="0.8"/>
<line x1="475.4" y1="197.6" x2="475.4" y2="360.8" stroke="#b5b5b5" stroke-width="0.8"/>
<line x1="273" y1="229.9" x2="517" y2="229.9" stroke="#a8a8a8" stroke-width="1" stroke-dasharray="2,1"/>
<text x="271.2" y="232.4" font-family="Liberation Sans, sans-serif" font-weight="bold" font-size="7.0" text-anchor="end" fill="#111" stroke="#111" stroke-width="0.15" textLength="7" lengthAdjust="spacingAndGlyphs">60</text>
<line x1="273" y1="246.3" x2="517" y2="246.3" stroke="#444" stroke-width="1" stroke-dasharray="2,1"/>
<text x="271.2" y="248.8" font-family="Liberation Sans, sans-serif" font-weight="bold" font-size="7.0" text-anchor="end" fill="#111" stroke="#111" stroke-width="0.15" textLength="7" lengthAdjust="spacingAndGlyphs">40</text>
<line x1="273" y1="263.5" x2="517" y2="263.5" stroke="#ababab" stroke-width="1" stroke-dasharray="2,1"/>
<text x="271.2" y="266.0" font-family="Liberation Sans, sans-serif" font-weight="bold" font-size="7.0" text-anchor="end" fill="#111" stroke="#111" stroke-width="0.15" textLength="7" lengthAdjust="spacingAndGlyphs">20</text>
<line x1="273" y1="296.0" x2="517" y2="296.0" stroke="#ababab" stroke-width="1" stroke-dasharray="2,1"/>
<text x="271.2" y="298.5" font-family="Liberation Sans, sans-serif" font-weight="bold" font-size="7.0" text-anchor="end" fill="#111" stroke="#111" stroke-width="0.15" textLength="7" lengthAdjust="spacingAndGlyphs">20</text>
<line x1="273" y1="312.0" x2="517" y2="312.0" stroke="#444" stroke-width="1" stroke-dasharray="2,1"/>
<text x="271.2" y="314.5" font-family="Liberation Sans, sans-serif" font-weight="bold" font-size="7.0" text-anchor="end" fill="#111" stroke="#111" stroke-width="0.15" textLength="7" lengthAdjust="spacingAndGlyphs">40</text>
<line x1="273" y1="328.2" x2="517" y2="328.2" stroke="#a8a8a8" stroke-width="1" stroke-dasharray="2,1"/>
<text x="271.2" y="330.7" font-family="Liberation Sans, sans-serif" font-weight="bold" font-size="7.0" text-anchor="end" fill="#111" stroke="#111" stroke-width="0.15" textLength="7" lengthAdjust="spacingAndGlyphs">60</text>
<path d="M285.40,265.50 C285.53,264.83 285.73,263.17 286.20,261.50 C286.67,259.83 287.48,257.33 288.20,255.50 C288.92,253.67 289.65,252.00 290.50,250.50 C291.35,249.00 292.30,247.70 293.30,246.50 C294.30,245.30 295.38,244.30 296.50,243.30 C297.62,242.30 298.78,241.33 300.00,240.50 C301.22,239.67 302.48,238.98 303.80,238.30 C305.12,237.62 306.17,237.20 307.90,236.40 C309.63,235.60 311.85,234.40 314.20,233.50 C316.55,232.60 319.37,231.65 322.00,231.00 C324.63,230.35 327.00,230.10 330.00,229.60 C333.00,229.10 335.00,228.48 340.00,228.00 C345.00,227.52 353.33,227.02 360.00,226.70 C366.67,226.38 373.33,226.23 380.00,226.10 C386.67,225.97 386.67,225.90 400.00,225.90 C413.33,225.90 440.43,225.98 460.00,226.10 C479.57,226.22 507.83,226.52 517.40,226.60 L517.40,330.50 C511.17,330.57 499.57,330.85 480.00,330.90 C460.43,330.95 420.00,330.92 400.00,330.80 C380.00,330.68 370.00,330.63 360.00,330.20 C350.00,329.77 345.00,328.82 340.00,328.20 C335.00,327.58 333.20,327.00 330.00,326.50 C326.80,326.00 323.75,325.77 320.80,325.20 C317.85,324.63 314.87,323.83 312.30,323.10 C309.73,322.37 307.58,321.90 305.40,320.80 C303.22,319.70 301.00,317.92 299.20,316.50 C297.40,315.08 295.88,313.83 294.60,312.30 C293.32,310.77 292.32,308.85 291.50,307.30 C290.68,305.75 290.27,304.47 289.70,303.00 C289.13,301.53 288.62,300.00 288.10,298.50 C287.58,297.00 287.05,295.25 286.60,294.00 C286.15,292.75 285.75,291.80 285.40,291.00 C285.05,290.20 284.65,289.50 284.50,289.20 Z" fill="#000"/>
<path d="M285.60,265.50 C287.10,265.05 292.20,263.35 294.60,262.80 C297.00,262.25 295.43,262.47 300.00,262.20 C304.57,261.93 315.33,261.60 322.00,261.20 C328.67,260.80 333.67,260.22 340.00,259.80 C346.33,259.38 350.00,259.05 360.00,258.70 C370.00,258.35 383.33,257.88 400.00,257.70 C416.67,257.52 440.43,257.60 460.00,257.60 C479.57,257.60 507.83,257.68 517.40,257.70 L517.40,297.60 C507.83,297.43 479.57,296.95 460.00,296.60 C440.43,296.25 418.33,295.88 400.00,295.50 C381.67,295.12 363.33,294.65 350.00,294.30 C336.67,293.95 327.87,293.77 320.00,293.40 C312.13,293.03 307.80,292.57 302.80,292.10 C297.80,291.63 293.00,291.00 290.00,290.60 C287.00,290.20 286.03,290.47 284.80,289.70 C283.57,288.93 283.13,287.78 282.60,286.00 C282.07,284.22 281.63,281.33 281.60,279.00 C281.57,276.67 282.07,273.75 282.40,272.00 C282.73,270.25 283.07,269.58 283.60,268.50 C284.13,267.42 285.27,266.00 285.60,265.50 Z" fill="#aaaaaa"/>
<path d="M272.8,197.6 V360.8 H517" fill="none" stroke="#111" stroke-width="1.5"/>
<rect x="272.6" y="276.8" width="8.2" height="3.4" fill="#000"/>
<text x="313.3" y="367.6" font-family="Liberation Sans, sans-serif" font-weight="bold" font-size="6.8" text-anchor="middle" fill="#222">10</text>
<text x="353.8" y="367.6" font-family="Liberation Sans, sans-serif" font-weight="bold" font-size="6.8" text-anchor="middle" fill="#222">20</text>
<text x="394.4" y="367.6" font-family="Liberation Sans, sans-serif" font-weight="bold" font-size="6.8" text-anchor="middle" fill="#222">30</text>
<text x="434.9" y="367.6" font-family="Liberation Sans, sans-serif" font-weight="bold" font-size="6.8" text-anchor="middle" fill="#222">40</text>
<text x="475.4" y="367.6" font-family="Liberation Sans, sans-serif" font-weight="bold" font-size="6.8" text-anchor="middle" fill="#222">50</text>
<text x="495.4" y="368.3" font-family="Liberation Sans, sans-serif" font-size="6.5" fill="#333" textLength="22.3" lengthAdjust="spacingAndGlyphs">minutes</text>
</g>
</svg>
</body></html>
